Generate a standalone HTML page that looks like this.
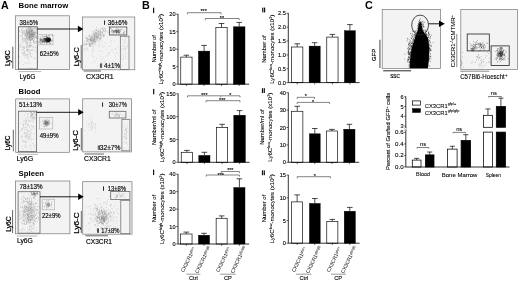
<!DOCTYPE html>
<html><head><meta charset="utf-8"><style>html,body{margin:0;padding:0;background:#fff;width:520px;height:281px;overflow:hidden}svg text{font-family:"Liberation Sans",sans-serif}</style></head>
<body><svg width="520" height="281" viewBox="0 0 520 281" style="display:block;filter:blur(0.3px)">
<defs>
<filter id="b0_8" x="-50%" y="-50%" width="200%" height="200%"><feGaussianBlur stdDeviation="0.8"/></filter>
<filter id="b1" x="-50%" y="-50%" width="200%" height="200%"><feGaussianBlur stdDeviation="1"/></filter>
<filter id="b1_5" x="-50%" y="-50%" width="200%" height="200%"><feGaussianBlur stdDeviation="1.5"/></filter>
<filter id="b1_8" x="-50%" y="-50%" width="200%" height="200%"><feGaussianBlur stdDeviation="1.8"/></filter>
<filter id="b2" x="-50%" y="-50%" width="200%" height="200%"><feGaussianBlur stdDeviation="2"/></filter>
</defs>
<rect width="520" height="281" fill="#fff"/>
<text x="0.9" y="9" font-size="10.6" font-weight="bold" text-anchor="start" fill="#000">A</text>
<text x="18.6" y="8.3" font-size="7.9" font-weight="bold" text-anchor="start" fill="#000" textLength="49.8" lengthAdjust="spacingAndGlyphs">Bone marrow</text>
<text x="18.6" y="94.4" font-size="7.9" font-weight="bold" text-anchor="start" fill="#000" textLength="21.8" lengthAdjust="spacingAndGlyphs">Blood</text>
<text x="18.6" y="176.4" font-size="7.9" font-weight="bold" text-anchor="start" fill="#000" textLength="25.4" lengthAdjust="spacingAndGlyphs">Spleen</text>
<rect x="15.3" y="15.8" width="54.2" height="53.8" fill="#f3f3f3" stroke="#777" stroke-width="0.7" />
<rect x="82.4" y="17" width="52.4" height="52.8" fill="#f3f3f3" stroke="#777" stroke-width="0.7" />
<ellipse cx="30.5" cy="33" rx="4.5" ry="4.5" fill="#777" opacity="0.45" filter="url(#b1_5)" transform="rotate(0 30.5 33)"/>
<path d="M28.98 36.56h0.56M29.1 32.42h0.56M26.28 32.93h0.56M34.45 36.12h0.56M34.15 35.24h0.56M31.58 34.93h0.56M23.34 38.28h0.56M32.03 36.49h0.56M26.44 31.66h0.56M31.22 33.77h0.56M32.08 30.79h0.56M31.23 35.97h0.56M27.36 42.59h0.56M32.23 39.99h0.56M27.52 30.3h0.56M28.62 33.47h0.56M32.53 35.24h0.56M28.21 29.22h0.56M27.92 40.1h0.56M26.77 35.22h0.56M30.19 40.53h0.56M21.94 32.39h0.56M29.58 29.91h0.56M31.99 33.69h0.56M24.14 38.14h0.56M32.68 38.73h0.56M35.76 35.81h0.56M30.48 27.5h0.56M32.46 30.94h0.56M28.19 27.68h0.56M26.13 31.34h0.56M24.17 35.2h0.56M35.77 36.89h0.56M31.43 30.32h0.56M25.52 38.89h0.56M34.41 34.79h0.56M30.98 36.17h0.56M36.38 37.1h0.56M32.07 36.74h0.56M23.73 40.41h0.56M33.82 36.65h0.56M22.1 30.83h0.56M29.26 39.1h0.56M24.76 42.05h0.56M32.21 33.25h0.56M31.3 37.25h0.56M30.48 39.73h0.56M27.35 31.93h0.56M34.17 34.13h0.56M26.48 38.73h0.56M35.86 31.78h0.56M24.48 33.33h0.56M29.4 32.51h0.56M35.62 28.87h0.56M35.04 27.66h0.56M26.85 37.16h0.56M34.51 38.3h0.56M31.38 34.71h0.56M30.61 36.88h0.56M29.3 35.39h0.56M32.29 34h0.56M33.06 36.83h0.56M28.29 32.14h0.56M29.95 38.62h0.56M28.65 35.93h0.56M25.5 35.22h0.56M31.59 35.19h0.56M28.28 37.28h0.56M31.13 31.39h0.56M27.78 33.5h0.56M29.1 33.69h0.56M19.09 31.57h0.56M34.03 28.16h0.56M29.73 38.77h0.56M33.42 41.46h0.56M23.19 32.23h0.56M28.64 37.12h0.56M30.7 39.97h0.56M29.4 34.96h0.56M33.19 34.71h0.56M29.65 41.67h0.56M34.19 32.53h0.56M33.66 32.67h0.56M30.53 37.53h0.56M30.89 37.19h0.56M32.46 29.18h0.56M35.07 37.73h0.56M35.89 29.31h0.56M30 28.3h0.56M33.06 41.95h0.56M26.44 41.8h0.56M33.95 33.11h0.56M22.11 41.03h0.56M29.61 30.99h0.56M31.6 36.05h0.56M35.99 28.9h0.56M34.54 41.44h0.56M35.81 33.1h0.56M27.02 39.09h0.56M30.46 34.62h0.56M35.7 32.68h0.56M20.81 32.06h0.56M22.58 38.09h0.56M31.27 30.94h0.56M29.96 38.16h0.56M30.32 40.63h0.56M29.75 39.2h0.56M35.97 42.05h0.56M27.31 38.4h0.56M22.5 28.58h0.56M22.15 39.34h0.56M25.07 33.94h0.56M29.23 33.86h0.56M27.63 35.17h0.56M32.12 39h0.56M29.21 27.7h0.56M27.78 39.37h0.56M23.42 31.01h0.56M34.03 37.96h0.56M30.03 38.03h0.56M30.66 28.11h0.56M23.74 30.81h0.56M33.69 31.17h0.56M26.39 30.15h0.56M23.87 33.41h0.56M25.28 35.82h0.56M20.56 35.64h0.56M32.9 32.62h0.56M21.08 29.62h0.56M31.16 31.71h0.56M33.12 37.74h0.56M32.66 35.63h0.56M35.33 37.3h0.56M33.59 40.55h0.56M28.81 31.65h0.56M31.88 46.12h0.56M26.29 37.45h0.56M32.24 38.51h0.56M26.38 33.55h0.56M31.17 38.13h0.56M29.86 33.02h0.56M25.94 32.21h0.56M33.57 34.51h0.56M26.59 29.79h0.56M32.49 36.4h0.56M36.74 36.14h0.56M29.73 36.61h0.56M22.22 39.17h0.56M31.3 30.49h0.56M35.3 43.05h0.56M24.39 30.67h0.56M31.17 34.92h0.56M28.41 29.13h0.56M26.51 35.3h0.56M21.36 30.26h0.56M29.76 36.61h0.56M27.09 33.38h0.56M31.83 35.88h0.56M32.55 35.04h0.56M28.7 37.95h0.56M30.2 29.87h0.56M27.5 34h0.56M29.56 34.78h0.56M30 34.88h0.56M29.46 27.71h0.56M31.69 39.27h0.56M31.74 33.05h0.56M31.79 29.17h0.56M22.42 34.3h0.56M26.28 37.7h0.56M25.84 41.89h0.56M26.95 36.6h0.56M31.99 34.88h0.56M35.94 37.53h0.56M29.92 36.98h0.56M36.62 38.86h0.56M34.1 28.59h0.56M29.41 37.65h0.56M28.81 39.34h0.56M32.39 38.54h0.56M29.15 46.73h0.56M34.96 32.92h0.56M30.36 46.98h0.56M28.63 38.37h0.56M33.92 34.03h0.56M25.33 34.94h0.56M31.44 39.65h0.56M33.13 34.12h0.56M33.41 36.7h0.56M30.82 34.28h0.56M29.03 37.43h0.56M25.78 30.86h0.56" stroke="#777" stroke-width="0.56" opacity="1.0"/>
<path d="M23.59 52.68h0.56M29.83 46.45h0.56M25.84 32.83h0.56M36.14 52.16h0.56M32.47 38.18h0.56M26.07 28.8h0.56M30.9 56.35h0.56M30.15 29.38h0.56M23.85 32.97h0.56M27.16 49.5h0.56M30.17 54.02h0.56M34.51 58.64h0.56M20.44 41.95h0.56M21.7 36.23h0.56M26.59 47.05h0.56M29.45 31.13h0.56M20.81 46.77h0.56M26 43.89h0.56M26.68 39.4h0.56M30.51 50.54h0.56M26.56 40.28h0.56M22.09 47.37h0.56M19.48 49h0.56M27.74 33.22h0.56M25.75 43.86h0.56M29.3 53.12h0.56M26.82 38.49h0.56M26.28 46.35h0.56M30.67 49.94h0.56M23.39 33.46h0.56M25.13 39.6h0.56M21.44 45.84h0.56M24.54 48.05h0.56M29.62 42.87h0.56M32.51 48.22h0.56M23.24 49.47h0.56M28.61 59.8h0.56M30.83 56.47h0.56M29.55 45.44h0.56M29.55 36.22h0.56M32.91 36.83h0.56M28.25 68.21h0.56M25.88 47.2h0.56M32.82 47.26h0.56M22.96 49.58h0.56M29.91 54.1h0.56M23.14 64.53h0.56M35.33 47.18h0.56M28.34 42.71h0.56M34.07 39.95h0.56M30.37 42.2h0.56M23.53 54.19h0.56M33.67 46.9h0.56M23.61 55.11h0.56M26.75 50.11h0.56M34.61 58.32h0.56M27.02 54.86h0.56M23.76 46.55h0.56M33.83 34.85h0.56M19.47 30.79h0.56M32.88 42.4h0.56M26.7 43.87h0.56M26.39 36.12h0.56M27.12 32.62h0.56M26.64 50.09h0.56M29.34 44.68h0.56M22.48 48.6h0.56M24.58 62.66h0.56M30.84 45.85h0.56M24.64 39.97h0.56M22.31 43.47h0.56M28.47 52.16h0.56M29.84 67.99h0.56M23.48 47.13h0.56M24.39 48.7h0.56M27.77 51.08h0.56M25.81 50.66h0.56M27.26 54.71h0.56M26.99 36.68h0.56M21.78 53.28h0.56M23.75 53.35h0.56M30.73 50.06h0.56M29.54 45.95h0.56M19.95 46.7h0.56M29.27 41.71h0.56M26.5 54.49h0.56M22.61 53.4h0.56M36.31 41.45h0.56M27.73 45.5h0.56M34.7 50.16h0.56M31.49 40.1h0.56M26.92 46.9h0.56M31.5 29.51h0.56M30.72 45.69h0.56M29.24 50.66h0.56M19.51 44.88h0.56M34.46 41.25h0.56M21.89 33.4h0.56M20.89 50.36h0.56M35.46 51.29h0.56M24.4 40.26h0.56M29.64 52.49h0.56M21.93 35.3h0.56M28.46 49.47h0.56M20.47 44.98h0.56M24.29 51.6h0.56M26.42 46.14h0.56M25.23 57.54h0.56M33.95 43.33h0.56M31.23 39.42h0.56M27.36 54.5h0.56M34.57 43.17h0.56M26.63 48.96h0.56M19.51 47.16h0.56M23.62 50.71h0.56M27.19 49.61h0.56M24.26 55.89h0.56M25.63 40.94h0.56M29.39 31.32h0.56M23.61 46.79h0.56M31.24 45.37h0.56M28.54 40.45h0.56M28.51 63.63h0.56M23.78 47.17h0.56M27.87 57.24h0.56M30.03 54.95h0.56M28.02 49.54h0.56M31.65 50.69h0.56M35.32 34.62h0.56M31.06 43.28h0.56M31.62 68.54h0.56M26.97 44.45h0.56M24.5 38.62h0.56M23.85 53.39h0.56M27.18 47.66h0.56M26.13 56.14h0.56M29.47 45.58h0.56M30.32 45.48h0.56M21.24 61.55h0.56M29.33 37.43h0.56M32.39 50.45h0.56M19.18 63.1h0.56M28.67 55.91h0.56M27.99 45.5h0.56M19.26 56.72h0.56M27.15 44.13h0.56M28.75 47.78h0.56M30.38 43.29h0.56M24.88 53.76h0.56M33.68 43.36h0.56M26.39 62.83h0.56M25.37 54.34h0.56M35.39 47.4h0.56M33.13 39.9h0.56M28.04 46.23h0.56M27.57 58.3h0.56M24.12 51.97h0.56M21.72 51.97h0.56M29.86 44.22h0.56M29.66 31.51h0.56M30.8 31.55h0.56M23.52 41.44h0.56M24.99 55.59h0.56M27.41 43.03h0.56M29.72 62.81h0.56M27.03 50.66h0.56M33.2 49.68h0.56M26.8 51.17h0.56M31.83 53.69h0.56M25.64 36.46h0.56M27.51 57.33h0.56M21.55 36.73h0.56M26.88 27.63h0.56M25.7 42.63h0.56M29.25 39.98h0.56M22.59 43.06h0.56M26.75 40.35h0.56M27.06 54.5h0.56" stroke="#999" stroke-width="0.56" opacity="1.0"/>
<ellipse cx="48" cy="39.8" rx="2.8" ry="2.4" fill="#000" opacity="1.0" filter="url(#b0_7)" transform="rotate(0 48 39.8)"/>
<ellipse cx="43" cy="40.5" rx="3.5" ry="1.8" fill="#888" opacity="0.45" filter="url(#b1_0)" transform="rotate(0 43 40.5)"/>
<path d="M49.58 43.07h0.56M44.46 39.24h0.56M40.04 43.42h0.56M44.62 39.94h0.56M47.86 37.55h0.56M47.71 39.95h0.56M41.75 40.53h0.56M49.61 36.64h0.56M48.6 40.38h0.56M47.73 40.79h0.56M49.89 39.6h0.56M48.77 39.26h0.56M48.39 38.53h0.56M46.22 43.12h0.56M47.66 39.72h0.56M43.52 38.58h0.56M47 41.69h0.56M47.61 40.94h0.56M46.39 42.43h0.56M45.48 39.01h0.56M48.81 40.11h0.56M45.78 38.96h0.56M45.83 41.12h0.56M47.42 37.82h0.56M47.61 40.32h0.56M43.9 41.39h0.56M45.77 39.4h0.56M48.57 42.38h0.56M44.71 40.79h0.56M44.22 44.17h0.56M45.22 42.15h0.56M44.82 41.46h0.56M52.27 35.43h0.56M45.37 40.9h0.56M46.26 38.8h0.56M52.1 40.14h0.56M42.22 41.54h0.56M42.02 42.07h0.56M45 40.26h0.56M49.78 40.21h0.56M42.88 36.95h0.56M49.57 41.33h0.56M44.38 41.55h0.56M47.79 41.17h0.56M40.63 39.46h0.56M48.84 41.32h0.56M48.79 35.58h0.56M46.94 40.89h0.56M45.64 40.06h0.56M48.8 39.2h0.56M49.48 38.58h0.56M47.19 39.05h0.56M46.91 38.76h0.56M42.35 41.97h0.56M47.29 38.99h0.56M47.02 41.78h0.56M43.96 39.8h0.56M47.9 40.95h0.56M45.63 36.21h0.56M49.73 40.59h0.56M46.53 39.5h0.56M47.18 39.23h0.56M43.84 38.67h0.56M44.95 38.9h0.56M43.49 41.15h0.56M43.09 41.19h0.56M43.86 40.63h0.56M50.07 40.37h0.56M44.6 40.09h0.56M46.89 36.88h0.56M44.92 40.29h0.56M45.28 40.14h0.56M48.41 41.38h0.56M48.85 41.06h0.56M45.75 39.97h0.56M45.79 39.44h0.56M46.03 36.9h0.56M45.63 39.96h0.56M43.97 39.96h0.56M47.84 39.7h0.56M51.9 35.31h0.56M45.96 36.71h0.56M39.99 40.23h0.56M47.85 39.46h0.56M47.93 35.96h0.56M48.72 40.67h0.56M46.56 38.94h0.56M48.16 39.13h0.56M47.08 39.08h0.56M40.66 39.94h0.56M47.03 41.36h0.56M44.22 39.94h0.56M48.1 40.26h0.56M49.73 43.58h0.56M44.14 36.54h0.56M48.73 42.75h0.56M48.9 41.47h0.56M44.89 38.72h0.56M48.81 38.36h0.56M41.79 38.2h0.56M44.72 38.69h0.56M47.1 38.65h0.56M49.91 39.86h0.56M43.68 42.36h0.56M44.98 40.4h0.56M46.47 39.43h0.56M47.34 38.75h0.56M41.7 36.03h0.56M43.21 38.63h0.56M46.44 40.1h0.56M47.95 40.22h0.56M44.44 38.72h0.56M40.99 39.7h0.56M47.76 40.95h0.56M46.18 39.69h0.56M48.93 40.03h0.56M48.42 41.05h0.56M47.05 42.35h0.56M45.01 39.35h0.56M44.4 38.57h0.56M50.55 43.17h0.56M46.56 41.02h0.56M49.56 41.45h0.56M49.63 37.73h0.56M44.84 40.81h0.56M50.23 40.19h0.56M44.27 39.36h0.56M44.78 38.46h0.56M50.4 38.87h0.56M46.55 43.89h0.56M49.58 40.61h0.56M44.91 40.74h0.56M50.72 41.12h0.56M49.78 40.18h0.56M47.84 39.64h0.56M47.61 42.34h0.56M42.78 39.89h0.56M47.12 38.97h0.56M45.7 41.42h0.56M51.7 41.13h0.56M47.35 37.21h0.56M51.51 40.14h0.56M46.41 37.99h0.56M46.35 38.03h0.56M46.68 40.84h0.56M46.58 40.5h0.56M44.29 42.57h0.56M44.8 36.73h0.56M46.01 38.63h0.56M43.87 39.36h0.56M47.26 37.87h0.56M46.14 42.57h0.56M48.28 39.73h0.56M46.83 39.78h0.56M46.38 41.32h0.56M46.26 35.67h0.56M46.44 38.4h0.56" stroke="#222" stroke-width="0.56" opacity="1.0"/>
<path d="M43.13 39.58h0.56M41.87 43.77h0.56M38.88 38.81h0.56M37.97 36.91h0.56M39.9 37.7h0.56M37.79 41.43h0.56M39.56 39.95h0.56M42.33 42.53h0.56M46.35 42.05h0.56M41.86 40.78h0.56M46.01 42.64h0.56M40.72 41.19h0.56M42.22 40.58h0.56M40.25 38.51h0.56M40.16 38.18h0.56M44.56 41.3h0.56M38.49 42.59h0.56M43.73 37.64h0.56M46.1 41.71h0.56M46.66 38.65h0.56M42.83 41.13h0.56M42 40.76h0.56M44.13 38.26h0.56M38.39 38.41h0.56M40.11 39.59h0.56M42.42 40.9h0.56M41.58 39.49h0.56M40.4 41.93h0.56M43.41 40.65h0.56M40.69 42.83h0.56M40.01 41.47h0.56M44.38 40.1h0.56M43.56 38.83h0.56M44.03 40.8h0.56M39.27 42.42h0.56M39.8 40.25h0.56M42.21 40h0.56M42.15 39.67h0.56M43.18 40.51h0.56M42.03 36.37h0.56M44.4 40.55h0.56M42.67 42.11h0.56M38.79 42.82h0.56M41.1 44.09h0.56M41.13 41.52h0.56M40.58 38.83h0.56M44.24 41.86h0.56M45.35 41.79h0.56M40.07 38.01h0.56M39.87 39.49h0.56M39.46 41.37h0.56M42.32 40.1h0.56M41.93 40.28h0.56M42.03 41.63h0.56M43.9 39.47h0.56M37.73 42.64h0.56M41.79 42.16h0.56" stroke="#777" stroke-width="0.56" opacity="1.0"/>
<ellipse cx="95" cy="37.5" rx="8" ry="3.2" fill="#aaa" opacity="0.4" filter="url(#b1_8)" transform="rotate(-42 95 37.5)"/>
<path d="M85.83 44.51h0.56M92.44 34.37h0.56M93.67 41.42h0.56M103.6 35.77h0.56M87.88 38.63h0.56M99.47 37.02h0.56M93.57 33.89h0.56M100.55 35.49h0.56M96.97 33.89h0.56M98.06 37.72h0.56M88.64 36.28h0.56M97.61 36.96h0.56M96.74 39.29h0.56M91.79 40.08h0.56M94.48 40.12h0.56M102.83 29.5h0.56M108.55 31.06h0.56M100.21 35.02h0.56M103.87 28.83h0.56M92.43 35.81h0.56M99.98 38.08h0.56M98.56 35.89h0.56M94.27 38.79h0.56M89.55 46.36h0.56M90.8 37.12h0.56M89.55 39.3h0.56M101.43 35.7h0.56M89.67 45.79h0.56M98.53 32.13h0.56M85.87 42.91h0.56M92.34 41.18h0.56M89.34 34.95h0.56M93.34 33.21h0.56M97.45 30.75h0.56M89.79 38.97h0.56M94.61 42.74h0.56M100.56 34.76h0.56M93.76 32.78h0.56M91.26 38.79h0.56M90.87 43.14h0.56M89.81 39.49h0.56M85.71 38.11h0.56M100.59 37.48h0.56M94.08 34.65h0.56M101.88 32.42h0.56M102.59 36.23h0.56M100.04 31.3h0.56M101.93 34.18h0.56M86.25 43.86h0.56M87.39 43.94h0.56M96.01 32.57h0.56M86.74 49.83h0.56M99.72 38.8h0.56M90.1 45.91h0.56M109.55 31.96h0.56M94.41 39.04h0.56M96.07 40.3h0.56M100.56 32.82h0.56M89.32 45.41h0.56M93.73 41.01h0.56M99.41 39.65h0.56M100.07 31.23h0.56M100.12 39.54h0.56M93.02 40.92h0.56M103.55 34.54h0.56M95.22 32.32h0.56M88.9 43.92h0.56M101.79 40.99h0.56M92.65 43.9h0.56M95.88 30.41h0.56M91.05 41.68h0.56M92.14 39.49h0.56M95.93 33.61h0.56M96.23 33.99h0.56M93.17 41.17h0.56M92.55 40.78h0.56M103.37 30.06h0.56M95.62 39.71h0.56M95.13 41.47h0.56M89.49 44.8h0.56M90.84 38.24h0.56M102.61 27.44h0.56M105.37 30.64h0.56M100.73 28.66h0.56M103.97 34.92h0.56M94.15 37.78h0.56M108.11 26.37h0.56M91.62 38.17h0.56M97.94 36.1h0.56M99.15 40.25h0.56M94.18 40.02h0.56M100.71 28.58h0.56M103.84 36.45h0.56M85.9 41.56h0.56M86.14 38.52h0.56M93.88 31.52h0.56M100.32 38.19h0.56M86 44.41h0.56M86.48 48.1h0.56M90.67 40.4h0.56M96.3 38.38h0.56M93.22 39.16h0.56M92.37 40.3h0.56M89.02 43.12h0.56M84.03 45.53h0.56M105.11 28.69h0.56M88.93 43.94h0.56M86.85 38.62h0.56M92.55 42.48h0.56M96.82 35.5h0.56M88.16 39.6h0.56M102.48 31.69h0.56M86.09 37.57h0.56M92.51 49.07h0.56M88.88 42.72h0.56M95.8 36.19h0.56M90.98 35.95h0.56M92.7 45.94h0.56M92.65 42.8h0.56M85.67 44.86h0.56M98.3 38.43h0.56M90.28 44h0.56M95.63 34.16h0.56M95.8 33.4h0.56M90.82 41.19h0.56M87.06 39.14h0.56M94.22 41.08h0.56M95.27 42.03h0.56M86.51 40.2h0.56M103.82 31.06h0.56M98.37 31.35h0.56M99.67 34.27h0.56M98.42 34.51h0.56M100.06 30.5h0.56M87.22 38.94h0.56M99.65 30.53h0.56M87.81 40.43h0.56M90.3 36.94h0.56M92.31 37.56h0.56M90.33 38.09h0.56M94.33 36.37h0.56M96.06 37.48h0.56M92.67 31.35h0.56M90.72 38.35h0.56M96.07 30.59h0.56M90.73 40.24h0.56M95.11 41.14h0.56M94.5 41.58h0.56M83.98 40.59h0.56M102.16 32.7h0.56M97.77 35.47h0.56M95.24 32.7h0.56M98.94 31.95h0.56M100.29 33.07h0.56M100.61 31.93h0.56M93.4 39.86h0.56M91.77 38.36h0.56M95.8 37.32h0.56M102.98 30.49h0.56M108.16 32.45h0.56M105.92 31.67h0.56M95.94 37.17h0.56M92.89 36.65h0.56M93.45 36.48h0.56M104.53 30.93h0.56M89.09 35.61h0.56M93.94 36.88h0.56M87.22 40.22h0.56M84.36 49.22h0.56M99.49 43.18h0.56M94.56 37.34h0.56M102.76 31.01h0.56M95.17 35.94h0.56M94.66 43.45h0.56M103.42 36.38h0.56M93.24 39.2h0.56M92.23 43.64h0.56M88.81 45.2h0.56M103.35 35.3h0.56M92.15 44.17h0.56M89.87 39.27h0.56M90.28 46.1h0.56M102.46 28.54h0.56M90.41 40.35h0.56M109.93 27.85h0.56M88.82 36.31h0.56M93.73 43.12h0.56M104.22 28.2h0.56M90.45 39.68h0.56M86.89 48.22h0.56M91.34 44.8h0.56M83.74 42.86h0.56M95.07 34.56h0.56M99.08 33.86h0.56M90.05 44.3h0.56M95.8 29.58h0.56M105.43 29.98h0.56M95.47 30.07h0.56M90.6 40.14h0.56M97.87 29.42h0.56M86.6 37.42h0.56M94.39 39.35h0.56M85.12 44.17h0.56M100.63 38.41h0.56M97.89 33.76h0.56M87.12 41.07h0.56M91.82 40.92h0.56M97.87 41.2h0.56M94.49 33.92h0.56M104.81 32.24h0.56M94.17 35.53h0.56M83.35 44.14h0.56M98.24 31.56h0.56M88.5 44.09h0.56M97.4 37.62h0.56M101.05 37.36h0.56M92.47 43.47h0.56M91.16 43.57h0.56M96.39 37.17h0.56M100 32.93h0.56M102.43 34.11h0.56M94.64 35.69h0.56M90.09 39.93h0.56M93.9 38.4h0.56M111.7 24.87h0.56M97.39 32.11h0.56M90.71 40.16h0.56M94.06 34.44h0.56M102.33 28.78h0.56M96.23 27.59h0.56M95.48 38.11h0.56M97.12 37.86h0.56M96.76 36.53h0.56M83.82 44.88h0.56M83.99 49.78h0.56M96.23 35.65h0.56M89.64 40.14h0.56" stroke="#888" stroke-width="0.56" opacity="1.0"/>
<ellipse cx="116" cy="31.5" rx="5" ry="1.8" fill="#888" opacity="0.5" filter="url(#b1_0)" transform="rotate(0 116 31.5)"/>
<path d="M122.96 33.75h0.6M116.3 33.17h0.6M110.94 28.98h0.6M114.81 30.36h0.6M114.54 31.74h0.6M116.67 31.86h0.6M116.38 32.71h0.6M122.71 29.88h0.6M117.07 31.16h0.6M117.75 29.51h0.6M110.35 28.49h0.6M118.34 31.75h0.6M116.76 28.42h0.6M115.19 30.52h0.6M111.55 30.31h0.6M118.94 32.21h0.6M116.42 32.17h0.6M114.39 31.59h0.6M116.64 32.22h0.6M116.26 31.31h0.6M116.03 30.66h0.6M124.32 32.17h0.6M118 34.48h0.6M121.41 29.48h0.6M118.93 32.59h0.6M123.1 33.21h0.6M119.2 29.97h0.6M113.45 31.85h0.6M118.27 30.17h0.6M115.15 30.98h0.6M116.71 31.94h0.6M115.5 29.89h0.6M120.85 33.57h0.6M116.13 32.83h0.6M118.05 32.36h0.6M118.19 30.51h0.6M118.51 32.81h0.6M113.36 34.06h0.6M123.81 33.87h0.6M123.46 32.47h0.6M115.32 30.72h0.6M113.65 31.65h0.6M116.39 32.37h0.6M124.47 31.46h0.6M118.87 32.12h0.6M117.46 31.23h0.6M116.07 30.43h0.6M117.12 31.47h0.6M117.62 30.39h0.6M116.64 31.56h0.6M118.61 30.12h0.6M117.97 32.78h0.6M118.59 31.02h0.6M114.78 31.19h0.6M119.05 33.52h0.6M115.95 30.66h0.6M117.82 31.77h0.6M113.32 30.54h0.6M116.14 32.37h0.6M112.32 30.18h0.6M118.25 29.91h0.6M116.88 31.96h0.6M116.11 30.18h0.6M116.29 31.07h0.6M117.68 30.41h0.6M120.32 29.32h0.6M115.88 31.51h0.6M119.87 30.71h0.6" stroke="#555" stroke-width="0.6" opacity="1.0"/>
<path d="M109.46 46.33h0.56M99.99 56.43h0.56M94.73 61.73h0.56M116.11 52.35h0.56M92.65 56.02h0.56M115.49 62.9h0.56M112.13 33.7h0.56M97.2 66.22h0.56M91.74 63.31h0.56M122.82 59.62h0.56M115.2 48.67h0.56M91.75 50.97h0.56M102.01 51.52h0.56M110.97 50.55h0.56M105.92 56.24h0.56M108.42 52.85h0.56M101.92 45.75h0.56M117.44 53.5h0.56M93.21 46.38h0.56M102.63 47.55h0.56M114.84 40.38h0.56M108.92 53.43h0.56M92.22 52.47h0.56M103.06 57.01h0.56M99.5 55.03h0.56M87.35 41.16h0.56M111.85 62.42h0.56M103.87 46.01h0.56M114.83 31.08h0.56M96 58.72h0.56M110.53 41.68h0.56M85.13 66.52h0.56M105.53 43.04h0.56M104.55 61.02h0.56M111.4 31.19h0.56M111.71 34.2h0.56M115.39 55.99h0.56M126.52 45.89h0.56M104.05 62.47h0.56M97.6 44.95h0.56M100.28 51.27h0.56M93.18 56.84h0.56M109.43 52.72h0.56M121 48.72h0.56M117.07 46.53h0.56M111.56 32.65h0.56M105.98 50.25h0.56M99.05 45.89h0.56M100.53 44.8h0.56M98.5 46.76h0.56M93.42 50.64h0.56M111.84 49.5h0.56M99.07 65.57h0.56M113.77 61.22h0.56M115.55 48.73h0.56M102.71 63.13h0.56M98.46 50.8h0.56M107.78 55.73h0.56M101.24 61.83h0.56M102.22 59.25h0.56M114.71 58.59h0.56M111.33 40.4h0.56M90.89 45.81h0.56M108.75 67.01h0.56M91.78 55.07h0.56M95.46 44.68h0.56M101.24 58.92h0.56M106.13 63.8h0.56M94.14 60.89h0.56M113.3 52.7h0.56M108.77 46.37h0.56M93.1 47.95h0.56M99.15 68.5h0.56M106.02 55.12h0.56M111.43 44.21h0.56" stroke="#aaa" stroke-width="0.56" opacity="1.0"/>
<path d="M125.87 53.01h0.56M122.23 54.81h0.56M125.33 53.62h0.56M126.88 46.69h0.56M125.27 55.99h0.56M123.15 59.6h0.56M122.32 39.6h0.56M125.28 41.29h0.56M124.33 36.84h0.56M124.6 40.93h0.56M125.01 37.74h0.56M125.17 47.87h0.56M124.6 49.46h0.56M124.7 39.43h0.56M120.65 50.27h0.56M123.1 46.36h0.56M123.36 45.12h0.56M122.91 52.61h0.56M124.29 43.43h0.56M123.02 56.46h0.56M123.51 54.68h0.56M122.87 50.02h0.56M125.01 56.24h0.56M125.7 58.27h0.56M123.94 48.32h0.56M125.66 46.6h0.56M126.09 37.29h0.56M125.48 48.61h0.56M121.55 57.84h0.56M124.97 50.17h0.56M122.89 46.28h0.56M126.77 43.38h0.56M122.7 48.94h0.56M123.91 42.7h0.56M123.24 58.38h0.56M122.34 65.65h0.56M123.68 41.26h0.56" stroke="#aaa" stroke-width="0.56" opacity="1.0"/>
<rect x="18.5" y="26.8" width="18.8" height="42.3" fill="none" stroke="#4a4a4a" stroke-width="0.8" />
<rect x="37.4" y="34.8" width="15.6" height="10" fill="none" stroke="#aaa" stroke-width="0.6" />
<rect x="109.4" y="27" width="17.4" height="8" fill="none" stroke="#4a4a4a" stroke-width="0.8" />
<rect x="120.3" y="36.2" width="8.7" height="33.2" fill="none" stroke="#666" stroke-width="0.7" />
<text x="19.6" y="25" font-size="6.6" font-weight="normal" text-anchor="start" fill="#000" textLength="18.6" lengthAdjust="spacingAndGlyphs" stroke="#000" stroke-width="0.15">38±5%</text>
<text x="39.8" y="56" font-size="6.6" font-weight="normal" text-anchor="start" fill="#000" textLength="18.8" lengthAdjust="spacingAndGlyphs" stroke="#000" stroke-width="0.15">62±5%</text>
<rect x="104.1" y="20.4" width="0.95" height="4.4" fill="#1a1a1a" stroke="none" stroke-width="0.8" />
<text x="107.7" y="25" font-size="6.6" font-weight="normal" text-anchor="start" fill="#000" textLength="19.7" lengthAdjust="spacingAndGlyphs" stroke="#000" stroke-width="0.15">36±6%</text>
<rect x="100.1" y="63.4" width="0.75" height="4.4" fill="#1a1a1a" stroke="none" stroke-width="0.8" />
<rect x="101.35" y="63.4" width="0.75" height="4.4" fill="#1a1a1a" stroke="none" stroke-width="0.8" />
<text x="104.1" y="68" font-size="6.6" font-weight="normal" text-anchor="start" fill="#000" textLength="15.9" lengthAdjust="spacingAndGlyphs" stroke="#000" stroke-width="0.15">4±1%</text>
<line x1="37.3" y1="29" x2="79.4" y2="29" stroke="#000" stroke-width="0.9"/>
<path d="M77.9 25.7L83.4 29L77.9 32.3Z" fill="#000"/>
<line x1="12.8" y1="46.7" x2="12.8" y2="68.7" stroke="#222" stroke-width="0.7"/>
<text x="9.9" y="58.2" font-size="6.6" font-weight="normal" text-anchor="middle" fill="#000" transform="rotate(-90 9.9 58.2)" textLength="15.6" lengthAdjust="spacingAndGlyphs" stroke="#000" stroke-width="0.25">Ly6C</text>
<line x1="18.5" y1="71.6" x2="41.2" y2="71.6" stroke="#999" stroke-width="0.7"/>
<text x="19.6" y="79" font-size="6.6" font-weight="normal" text-anchor="start" fill="#000" textLength="15.8" lengthAdjust="spacingAndGlyphs" stroke="#000" stroke-width="0.15">Ly6G</text>
<line x1="81.2" y1="45" x2="81.2" y2="68.5" stroke="#222" stroke-width="0.7"/>
<text x="78.9" y="56.8" font-size="6.6" font-weight="normal" text-anchor="middle" fill="#000" transform="rotate(-90 78.9 56.8)" textLength="19" lengthAdjust="spacingAndGlyphs" stroke="#000" stroke-width="0.25">Ly6-C</text>
<line x1="83.7" y1="71" x2="101" y2="71" stroke="#222" stroke-width="0.7"/>
<text x="86" y="78.7" font-size="6.6" font-weight="normal" text-anchor="start" fill="#000" textLength="27.6" lengthAdjust="spacingAndGlyphs" stroke="#000" stroke-width="0.15">CX3CR1</text>
<rect x="15.7" y="98.9" width="53.7" height="53.4" fill="#f3f3f3" stroke="#777" stroke-width="0.7" />
<rect x="82.7" y="98.8" width="48.8" height="53.1" fill="#f3f3f3" stroke="#777" stroke-width="0.7" />
<path d="M30.54 136.77h0.56M22.31 138.98h0.56M32.07 126.93h0.56M21.14 136.17h0.56M31.13 129.73h0.56M28.88 139.22h0.56M35.34 126.97h0.56M24.83 129.54h0.56M32.43 118.7h0.56M30.59 121.89h0.56M29.07 138.26h0.56M21.68 128.96h0.56M28.08 137.05h0.56M22.81 118.1h0.56M26.13 127.33h0.56M20.27 141.16h0.56M24.59 147.23h0.56M30.83 130.25h0.56M30.27 116.66h0.56M25.53 123.09h0.56M21.29 130.2h0.56M26.35 147.23h0.56M22.87 124.43h0.56M28.9 134.85h0.56M27.13 124.31h0.56M29.23 134.32h0.56M20.81 115.82h0.56M27.66 130.72h0.56M27.51 119.49h0.56M26.09 119.05h0.56M28.72 138.26h0.56M34.9 145.19h0.56M23.38 124.51h0.56M22.78 133.67h0.56M35.91 138.5h0.56M21.18 136.18h0.56M27.01 133.6h0.56M35.02 120.07h0.56M28.54 120.65h0.56M27.2 141.92h0.56M26.37 121.68h0.56M19.05 132.08h0.56M27.12 137.4h0.56M25.18 135.99h0.56M30.67 128.23h0.56M24.94 127.76h0.56M22.66 127.51h0.56M25.64 132.52h0.56M33.01 145.69h0.56M25 137.24h0.56M28.33 139.14h0.56M27.1 133.19h0.56M24.89 120.59h0.56M30.92 145.59h0.56M29.98 135.23h0.56M28.2 124.6h0.56M27.9 123.35h0.56M22.66 145.33h0.56M23.77 129.74h0.56M24.72 131.86h0.56M26.06 121.02h0.56M31.84 120.58h0.56M24.71 136.65h0.56M24.58 124.78h0.56M28.6 125.59h0.56M21.39 128.77h0.56M26.01 150.46h0.56M22.06 141.63h0.56M23.46 125.73h0.56M25.53 133.25h0.56M30.89 151h0.56M24.14 145.96h0.56M31.48 139.75h0.56M23.58 140.81h0.56M26.52 134.24h0.56M25.79 137.97h0.56M32.02 143.57h0.56M26.08 141.94h0.56M33.53 118.78h0.56M33.63 113.98h0.56M29.44 137.13h0.56M33.67 133.35h0.56M24.84 120.44h0.56M21.37 139.19h0.56M25.93 121.39h0.56M29.39 120.82h0.56M25.03 124.5h0.56M34.44 147.55h0.56M28.24 130.86h0.56M28.57 136.79h0.56M25.56 141.1h0.56M30.77 132.53h0.56M25.17 124.23h0.56M30.12 116.81h0.56M26.28 121h0.56M20.73 137.24h0.56M26.88 130.43h0.56M30.93 112.07h0.56M26.7 133.46h0.56M30.75 116.98h0.56M30.22 132.63h0.56M33.1 143.67h0.56M26.99 124.91h0.56M25.47 118.71h0.56M26.62 135.11h0.56M31.46 125.83h0.56M33.25 122.18h0.56M23.57 120.5h0.56M33.56 136.22h0.56M22.15 136.25h0.56M29.12 127.26h0.56M27.1 126.42h0.56M26.6 145.05h0.56M33.29 126.73h0.56M23.72 127.52h0.56M30.94 134.12h0.56M24.44 134.24h0.56M26.09 136.04h0.56M25.21 112.77h0.56M27.25 138.9h0.56M22.14 128.74h0.56M30.85 125.62h0.56M30.64 142.02h0.56M22.85 149.09h0.56M19.74 123.94h0.56M30.24 145.54h0.56M22.93 122.25h0.56M29.8 136.53h0.56M25.04 136.27h0.56M30.39 133.61h0.56M29.28 147.64h0.56M24.91 131.89h0.56M24.72 142.04h0.56M25.22 135.52h0.56M27.6 130.77h0.56M34.49 129.01h0.56M33.18 139.6h0.56M32.75 128.08h0.56M31.04 138.78h0.56M24.33 133.13h0.56M26.44 129.59h0.56M32.66 121.64h0.56M25.03 122.53h0.56M27.06 136.55h0.56M34.65 133.58h0.56M29.01 121.49h0.56M29.52 145.73h0.56M30.87 148.33h0.56M30.59 112.71h0.56M25.67 136.79h0.56M28.8 120.62h0.56M23.14 141.17h0.56M21.22 146.58h0.56M27.09 133.48h0.56M21.22 123.11h0.56M29.99 113.01h0.56M35.97 113.79h0.56M21.71 130.5h0.56M29.09 138.46h0.56M25.39 127.61h0.56M25.98 123.36h0.56M28.09 131.83h0.56M24.28 132.9h0.56M26.94 129.11h0.56M28.09 117.71h0.56M25.63 147.28h0.56M22.31 128.85h0.56M24.44 140.95h0.56M29.22 125.92h0.56M25.62 142.45h0.56M23.16 125.7h0.56M27.64 134.76h0.56M24.77 141.93h0.56M33.08 126.03h0.56M27.59 126.09h0.56M24.25 115.28h0.56M25.29 144.94h0.56M31.93 125.99h0.56M24.72 121.91h0.56M21.82 150.79h0.56M29.87 131.35h0.56M24.88 118.22h0.56M32.69 139h0.56M22.88 141.4h0.56M22.22 137.4h0.56M22.85 125.22h0.56M29.14 134.98h0.56M31.37 120.36h0.56M33.82 145.49h0.56M26.96 135.36h0.56M23.64 128.24h0.56M21.29 131.03h0.56" stroke="#aaa" stroke-width="0.56" opacity="1.0"/>
<path d="M32.48 118.22h0.56M34.27 116.96h0.56M31.13 114.46h0.56M31.18 115.53h0.56M27.37 116.85h0.56M28.24 113.76h0.56M32.05 113.77h0.56M35.99 114.77h0.56M35.77 117.82h0.56M30.81 115.96h0.56M35.12 114.2h0.56M32.21 113.66h0.56M32.14 114.15h0.56M32.2 117.4h0.56M35.34 115.32h0.56M32.48 117.05h0.56M31.3 112.46h0.56M34.66 112.76h0.56M34.23 112.68h0.56M34.04 118.6h0.56M29.69 118.56h0.56M33.73 116.68h0.56M31.87 114.27h0.56M31.09 114.3h0.56M27.7 113.64h0.56M31.13 113.29h0.56M32.95 117.55h0.56M33.74 112.19h0.56M32.39 115.34h0.56M35.45 117.87h0.56M33.26 117.92h0.56M31.05 118.69h0.56M30.98 115.95h0.56M34.2 112.81h0.56M32.4 114.87h0.56M31.22 116.2h0.56M26.92 114.94h0.56M32.21 114.36h0.56M33.91 119.21h0.56M30.93 112.74h0.56M30.55 115.22h0.56M33.41 112.93h0.56M34.4 112.54h0.56M33.99 116.03h0.56M33.11 120.18h0.56" stroke="#999" stroke-width="0.56" opacity="1.0"/>
<ellipse cx="46.5" cy="123" rx="2" ry="2" fill="#222" opacity="0.85" filter="url(#b0_8)" transform="rotate(0 46.5 123)"/>
<path d="M45.37 122.6h0.56M47.14 125.07h0.56M42.79 123.66h0.56M44.22 124.51h0.56M49.29 123.12h0.56M45.74 123.44h0.56M47.35 123.39h0.56M45.05 121.25h0.56M45.57 125.91h0.56M45.75 126.23h0.56M39.83 121.9h0.56M46.66 122.97h0.56M42.02 121.4h0.56M49 119.9h0.56M43.62 120.37h0.56M44.68 124.54h0.56M47.43 118.13h0.56M49.5 121.58h0.56M44.59 127h0.56M45.8 120.02h0.56M44.47 121.26h0.56M43.58 122.2h0.56M48.11 123.84h0.56M43.62 123.28h0.56M46.08 124.83h0.56M45.21 124.1h0.56M51.05 123.23h0.56M43.4 123.79h0.56M44.07 122.11h0.56M46.45 123.81h0.56M45.32 125.04h0.56M45.54 119.87h0.56M48.11 122.13h0.56M48.91 121.43h0.56M47.37 123.76h0.56M43.31 126.38h0.56M41.47 125.19h0.56M48.62 124.19h0.56M47.62 121.81h0.56M45.97 123.54h0.56M47.01 124.7h0.56M45.5 121.32h0.56M44.65 123.99h0.56M42.01 119.99h0.56M45.01 121.67h0.56M45.18 122.4h0.56M47.86 118.25h0.56M45.27 124.14h0.56M47.17 125.87h0.56M48.53 120.48h0.56M47.53 122.2h0.56M44.07 126.68h0.56M44.49 120.95h0.56M45.02 120.95h0.56M48.42 123.91h0.56M49.37 123.99h0.56" stroke="#777" stroke-width="0.56" opacity="1.0"/>
<path d="M88.93 130.03h0.56M88.8 124.22h0.56M90.44 126.15h0.56M95.02 123.67h0.56M92.18 125.89h0.56M86.76 121.79h0.56M90.26 127.56h0.56M92.08 127.84h0.56M91.16 124.27h0.56M92.44 122.14h0.56M86.47 124.72h0.56M86.18 124.02h0.56M88.48 123.86h0.56M90.85 122.92h0.56M89.57 119.41h0.56M91.49 122.6h0.56M92.36 115.1h0.56M88.29 126.94h0.56M91.32 126.4h0.56M85.95 126.89h0.56M91.5 122.25h0.56M93.51 125.81h0.56M91.06 124.27h0.56M92.85 126.38h0.56M94.84 127.74h0.56M88.91 125.14h0.56M94.1 124.59h0.56M92.29 128.02h0.56M90.39 117h0.56M91.45 126.83h0.56M91.46 123.06h0.56M95.09 125.48h0.56M88.89 123.23h0.56M92.21 121.78h0.56M87.61 133.74h0.56M95.43 130.08h0.56M95.62 128.3h0.56M85.3 130.62h0.56M95.19 127.9h0.56M84.37 130.81h0.56M95.63 124.1h0.56M91.43 129.01h0.56M90.71 130.25h0.56M91.28 128.68h0.56M91.29 120.27h0.56M87.63 138.27h0.56M91.95 131.08h0.56M94.86 132.65h0.56M92.88 123.69h0.56" stroke="#bbb" stroke-width="0.56" opacity="1.0"/>
<path d="M117.04 112.27h0.6M116.54 115.55h0.6M111.76 114.73h0.6M119 116.05h0.6M114.75 113.74h0.6M112.45 113.31h0.6M118.3 116.91h0.6M114.22 116.11h0.6M118.04 113.92h0.6M122.32 111.56h0.6M116.84 114.76h0.6M122.17 116.59h0.6M122.5 114.66h0.6M119.38 116.09h0.6M118.24 114.92h0.6M116.55 114.02h0.6M114.01 116.77h0.6M115.92 112.07h0.6M117.64 114.46h0.6M117.43 116.62h0.6M116.74 114.19h0.6M115.19 114.47h0.6M115.93 114.74h0.6M124.59 114.96h0.6M114.92 116.75h0.6M119.1 115.45h0.6M118.74 115.46h0.6M118.64 116.15h0.6M119.45 116.07h0.6M115.78 114.5h0.6M115.23 115.62h0.6M119.02 113.96h0.6M118.42 117.57h0.6M120.01 113.2h0.6M116.78 115.24h0.6M116.91 114.95h0.6M119.87 114.88h0.6M114.33 115.34h0.6M116.76 114.63h0.6M115.62 112.88h0.6" stroke="#aaa" stroke-width="0.6" opacity="1.0"/>
<path d="M124.44 132.94h0.56M127.24 128.21h0.56M125.05 138.11h0.56M123.08 142.84h0.56M125 138.86h0.56M125.34 136.79h0.56M126.02 134.99h0.56M123.76 126.41h0.56M125.85 143.24h0.56M125.26 138.11h0.56M126.09 137.83h0.56M127.06 126.24h0.56M126.22 133.96h0.56M125.53 130.01h0.56M124.98 128.98h0.56M124.62 149.67h0.56M127.89 135.06h0.56M126.77 129.29h0.56M122.65 124.35h0.56M126.07 143.41h0.56M125.85 129.15h0.56M125.62 129.17h0.56M124.27 133.64h0.56M125.43 130.25h0.56M124.86 129.56h0.56M126.18 143.15h0.56M125.65 148.07h0.56M124.01 136.6h0.56M124.55 134.06h0.56M126.02 138.27h0.56M127.22 131.75h0.56M124.45 133.9h0.56M126.24 130.92h0.56M126.94 144.85h0.56M124.24 137.12h0.56M127.09 123.76h0.56M126.14 133.68h0.56M124.24 142.69h0.56M126.15 132.2h0.56M126.42 138.76h0.56M126.8 138.39h0.56M126.38 128.12h0.56M125.41 135.75h0.56M122.66 147.47h0.56M125.46 128.83h0.56M123.77 136.46h0.56M125.94 131.59h0.56M125.41 129.81h0.56M125.02 134.43h0.56M125.15 138.97h0.56M125.73 135.77h0.56M126.37 142.43h0.56M126.6 136.33h0.56M125.71 130.29h0.56M125.5 138.99h0.56M126.16 132.73h0.56M124.34 126.04h0.56M126.28 141.01h0.56M126.34 126.97h0.56" stroke="#bbb" stroke-width="0.56" opacity="1.0"/>
<rect x="18.5" y="111.2" width="18.1" height="40.4" fill="none" stroke="#666" stroke-width="0.8" />
<rect x="39.4" y="117.4" width="13.4" height="11.6" fill="none" stroke="#aaa" stroke-width="0.6" />
<rect x="109.3" y="111.3" width="16.6" height="6.7" fill="none" stroke="#666" stroke-width="0.8" />
<rect x="121.9" y="119.3" width="8" height="31.5" fill="none" stroke="#666" stroke-width="0.7" />
<text x="19.1" y="107" font-size="6.6" font-weight="normal" text-anchor="start" fill="#000" textLength="23" lengthAdjust="spacingAndGlyphs" stroke="#000" stroke-width="0.15">51±13%</text>
<text x="39.75" y="138" font-size="6.6" font-weight="normal" text-anchor="start" fill="#000" textLength="18.75" lengthAdjust="spacingAndGlyphs" stroke="#000" stroke-width="0.15">49±9%</text>
<rect x="102.1" y="102.4" width="0.95" height="4.4" fill="#1a1a1a" stroke="none" stroke-width="0.8" />
<text x="108.8" y="107" font-size="6.6" font-weight="normal" text-anchor="start" fill="#000" textLength="18" lengthAdjust="spacingAndGlyphs" stroke="#000" stroke-width="0.15">30±7%</text>
<rect x="97.85" y="145.4" width="0.75" height="4.4" fill="#1a1a1a" stroke="none" stroke-width="0.8" />
<rect x="99.1" y="145.4" width="0.75" height="4.4" fill="#1a1a1a" stroke="none" stroke-width="0.8" />
<text x="99.8" y="150" font-size="6.6" font-weight="normal" text-anchor="start" fill="#000" textLength="20.7" lengthAdjust="spacingAndGlyphs" stroke="#000" stroke-width="0.15">32±7%</text>
<line x1="36.6" y1="112.3" x2="79.7" y2="112.3" stroke="#000" stroke-width="0.9"/>
<path d="M78.2 109L83.7 112.3L78.2 115.6Z" fill="#000"/>
<line x1="13.3" y1="129.8" x2="13.3" y2="151.3" stroke="#222" stroke-width="0.7"/>
<text x="9.9" y="143" font-size="6.6" font-weight="normal" text-anchor="middle" fill="#000" transform="rotate(-90 9.9 143)" textLength="14.6" lengthAdjust="spacingAndGlyphs" stroke="#000" stroke-width="0.25">Ly6C</text>
<line x1="17.6" y1="154.3" x2="38.2" y2="154.3" stroke="#999" stroke-width="0.7"/>
<text x="16.6" y="161.4" font-size="6.6" font-weight="normal" text-anchor="start" fill="#000" textLength="16.6" lengthAdjust="spacingAndGlyphs" stroke="#000" stroke-width="0.15">Ly6G</text>
<line x1="81.3" y1="128" x2="81.3" y2="150.5" stroke="#222" stroke-width="0.7"/>
<text x="78.3" y="140.4" font-size="6.6" font-weight="normal" text-anchor="middle" fill="#000" transform="rotate(-90 78.3 140.4)" textLength="20.6" lengthAdjust="spacingAndGlyphs" stroke="#000" stroke-width="0.25">Ly6-C</text>
<line x1="84.5" y1="154" x2="104" y2="154" stroke="#222" stroke-width="0.7"/>
<text x="84" y="161.4" font-size="6.6" font-weight="normal" text-anchor="start" fill="#000" textLength="26.7" lengthAdjust="spacingAndGlyphs" stroke="#000" stroke-width="0.15">CX3CR1</text>
<rect x="15.5" y="181" width="54.4" height="52.8" fill="#f3f3f3" stroke="#777" stroke-width="0.7" />
<rect x="82.7" y="181.7" width="49.3" height="52.5" fill="#f3f3f3" stroke="#777" stroke-width="0.7" />
<ellipse cx="29" cy="213" rx="5" ry="10" fill="#999" opacity="0.3" filter="url(#b2)" transform="rotate(0 29 213)"/>
<path d="M27.96 215.16h0.56M24.53 216.38h0.56M28.02 204.87h0.56M22.95 220.9h0.56M30.74 204.35h0.56M24.06 221.67h0.56M31.9 210.03h0.56M36.76 210.18h0.56M23.85 223.64h0.56M28.08 216.36h0.56M29.19 203.24h0.56M23.22 211.11h0.56M35.85 203.23h0.56M35.62 215.15h0.56M23.58 215.6h0.56M31.76 204.24h0.56M18.63 216.47h0.56M23.6 217.29h0.56M19.7 211.62h0.56M25.06 198.59h0.56M27.83 214.67h0.56M26.29 201.51h0.56M30.03 195.98h0.56M31.6 217.77h0.56M37.16 221.59h0.56M30.73 215.56h0.56M29.13 200.11h0.56M36.11 218.12h0.56M27.61 201.86h0.56M36.21 218.17h0.56M23.24 219.53h0.56M38.21 212.78h0.56M30.94 208.96h0.56M25.95 223.43h0.56M28.4 220.71h0.56M27.52 220.08h0.56M33.02 203.13h0.56M23.79 212.28h0.56M33.04 215.69h0.56M35.03 199.63h0.56M31.39 206.96h0.56M29.49 216.12h0.56M24.29 210.78h0.56M23.35 215.58h0.56M24.87 208.21h0.56M30.06 206.66h0.56M34.57 206.82h0.56M33.12 215.74h0.56M23.98 210.88h0.56M24.94 209.49h0.56M27.69 230.64h0.56M26.97 228.21h0.56M31.17 200.33h0.56M19.35 219.96h0.56M33.99 216.78h0.56M27.98 210.57h0.56M30.26 210.06h0.56M26.41 209.42h0.56M34.67 206.99h0.56M30.84 201.85h0.56M25.55 199.69h0.56M28.04 219.61h0.56M30.48 208.23h0.56M31.96 209.64h0.56M30.8 215.65h0.56M22.7 220.49h0.56M27.86 207.66h0.56M36.23 218.38h0.56M38.18 217.93h0.56M28.01 220.01h0.56M25.19 208.68h0.56M26.32 210.85h0.56M32.77 208.34h0.56M30.56 208.18h0.56M28 214.63h0.56M23.79 222.8h0.56M30.05 225.39h0.56M33.65 219.2h0.56M28.28 202.5h0.56M27.94 208.55h0.56M30.21 208.5h0.56M34.68 208.46h0.56M27.83 221.95h0.56M29.01 201.28h0.56M31 211.11h0.56M19.06 214.91h0.56M23.9 205.81h0.56M31.33 215.89h0.56M31.03 207.07h0.56M30.14 211.83h0.56M28.11 210.33h0.56M26.27 222.47h0.56M29.13 229.47h0.56M32.81 228.88h0.56M28.43 216.62h0.56M26.91 211.37h0.56M20.65 207.39h0.56M24.41 206.71h0.56M34.87 215.52h0.56M34.91 221.28h0.56M33.44 222.69h0.56M26.08 220.74h0.56M27.45 207.89h0.56M24.28 229.75h0.56M33 204.83h0.56M30.32 216.58h0.56M30.81 209.56h0.56M22.81 213.3h0.56M33.15 220.56h0.56M32.18 223.62h0.56M24.22 212.59h0.56M30.64 222.63h0.56M29.75 217.99h0.56M20.18 214.29h0.56M22.09 206.46h0.56M30.08 229.51h0.56M31.23 219.44h0.56M33.9 214.93h0.56M24.87 212.06h0.56M30.62 210.33h0.56M25.79 209.54h0.56M21.77 203.13h0.56M28.56 209.53h0.56M29.18 226.52h0.56M30.44 212.69h0.56M23.35 202.62h0.56M30.81 204.59h0.56M31.07 202.66h0.56M29.65 212.3h0.56M33.79 209.22h0.56M27.21 215.37h0.56M29.26 229.26h0.56M27.76 207.84h0.56M27.46 217.56h0.56M30.13 219.67h0.56M37.85 212.7h0.56M23.18 214.49h0.56M29.07 198.78h0.56M31.2 226.3h0.56M33.97 198.51h0.56M35.65 221.72h0.56M27.26 217.83h0.56M36.3 209.81h0.56M28.92 207.62h0.56M34.56 192.28h0.56M35.83 203.69h0.56M33.46 197.36h0.56M24.49 207.25h0.56M32.99 197.4h0.56M31.9 206.89h0.56M34.97 210.01h0.56M31.34 211.35h0.56M37.63 209.54h0.56M28.88 232.09h0.56M29.37 219.6h0.56M25.45 214.92h0.56M25.89 198.54h0.56M22.19 223.99h0.56M31.05 198.41h0.56M37.73 206.31h0.56M27.23 215.37h0.56M23.53 197.44h0.56M25.41 224.37h0.56M33.58 197.8h0.56M34.79 213.33h0.56M31.41 213.5h0.56M30.99 203.37h0.56M24.63 206.24h0.56M27.23 218.96h0.56M23.15 228.34h0.56M25.96 207.34h0.56M32.38 217.17h0.56M27.37 202.7h0.56M24.19 197.62h0.56M34.5 223.43h0.56M37.99 217.8h0.56M30.6 220.29h0.56M33.58 210.51h0.56M20.85 199.47h0.56M24.37 220.25h0.56M34.72 209.74h0.56M32.23 212.53h0.56M30.44 207.8h0.56M28.87 212.95h0.56M20.26 218.13h0.56M28.98 222.32h0.56M34.11 220.51h0.56M32.89 203.85h0.56M20.79 229.07h0.56M34.82 203.83h0.56M35.21 219.42h0.56M24.25 224.23h0.56M25.72 205.84h0.56M21.56 210.91h0.56M33.9 206.53h0.56M37.89 219.65h0.56M26.41 201.33h0.56M21.11 218.38h0.56M35.26 202.79h0.56M29 210.33h0.56M27.76 217.83h0.56M39.08 206.86h0.56M33.09 223.49h0.56M27.63 211.57h0.56M22.54 223.39h0.56M26.44 206.69h0.56M29.32 204.73h0.56M23.98 210.13h0.56M36.17 211.02h0.56M31.54 198.86h0.56M19.61 230.52h0.56M27.08 198.17h0.56M28.49 218.85h0.56M20.67 204.49h0.56M30.25 204.11h0.56M32.84 222.28h0.56M31.13 208.86h0.56M28.78 206.9h0.56M28.37 216.07h0.56M27.55 222.39h0.56M30.66 220.94h0.56M32.11 210.7h0.56M26.69 222.69h0.56M32.02 217.89h0.56M25.12 219.1h0.56M32.84 211.21h0.56M19.94 218.86h0.56M23.34 199.82h0.56M27.86 218.27h0.56M29.25 201.74h0.56M22.05 207.62h0.56M29.07 204.97h0.56M21.73 229.96h0.56M24.95 211.49h0.56M26.35 207.34h0.56M29.19 210.12h0.56M31.99 201.54h0.56M21.81 231.86h0.56M28.64 220.43h0.56M34.71 218.36h0.56M29.18 197.95h0.56M21.25 222.47h0.56M32.28 218.51h0.56M20.97 192.36h0.56M23.89 201.56h0.56M29.77 203.1h0.56M36.66 206.97h0.56M26.28 221.37h0.56M30.59 204.29h0.56M32.98 231.63h0.56M23.05 210.59h0.56M23.78 194.17h0.56M32.04 219.77h0.56M33.73 217.16h0.56M19.23 212.74h0.56M25.76 201.58h0.56M23.63 220.43h0.56M27.56 232.09h0.56M31.29 194.46h0.56M33.34 225.14h0.56M29.15 201.22h0.56M37.59 200.24h0.56M28.59 194.47h0.56M22.9 196.47h0.56M34.3 224.46h0.56M27.03 199.81h0.56M28.71 216.69h0.56M21.57 201.72h0.56M28.5 219.85h0.56M29.36 217.38h0.56M30.52 204.06h0.56M28.4 209.32h0.56M31.34 205.47h0.56M36.04 213.3h0.56M31.58 219.14h0.56M34.06 216.94h0.56M20.46 206.86h0.56M38.08 217.62h0.56M31.74 217.56h0.56M25.87 206.38h0.56M25.84 224.32h0.56M30.78 230.4h0.56M31.44 231.49h0.56M31.24 201.42h0.56M37.52 216.3h0.56M34.83 215.1h0.56M27.4 214.66h0.56M23.5 201.29h0.56M24.65 207.86h0.56M22.35 211.99h0.56M38.03 212.51h0.56M33.34 210.85h0.56M30.92 212.67h0.56M26.35 213.74h0.56M21.74 217.32h0.56M27.58 202.36h0.56M27.23 218.44h0.56M25.66 217.67h0.56M31.8 228.33h0.56M23.66 211.91h0.56M31.52 227.76h0.56M30.29 220.42h0.56M21.78 207.25h0.56M37.18 210.2h0.56M27.63 197.29h0.56M32.13 215.61h0.56M38.95 214.63h0.56M27.77 199.11h0.56M28.59 222.34h0.56M32.65 225.11h0.56M33.27 212.54h0.56M31.98 214.7h0.56M22.42 229.9h0.56M30.85 202.62h0.56M30.9 215.84h0.56M33.92 227.27h0.56M36.56 203.63h0.56M19.81 215.76h0.56M30.66 216.46h0.56M23.51 208.38h0.56M29.96 220.37h0.56M34.32 211.69h0.56M28.46 203.21h0.56M32.64 195.24h0.56M29.54 214.2h0.56M30.49 225.93h0.56M28.51 213.93h0.56M33.25 197.63h0.56M27.55 213.67h0.56M33.74 205.06h0.56M32.99 216.81h0.56M21.62 198.32h0.56M21.89 214.39h0.56M30.03 220.18h0.56M33.08 207.52h0.56M34.31 221.13h0.56M31.34 217.76h0.56M22.61 216.59h0.56M23.87 201.16h0.56M27.26 214.38h0.56M28.73 209.72h0.56M24.03 214.85h0.56M25.32 199h0.56M29.46 227.45h0.56M26.99 202.44h0.56M35.88 230.03h0.56M27.54 210.9h0.56M29.67 222.89h0.56M31.21 194.9h0.56M23.52 200.74h0.56M31.16 214.06h0.56" stroke="#888" stroke-width="0.56" opacity="1.0"/>
<path d="M37.21 193.68h0.6M34.55 194.09h0.6M34.25 196.77h0.6M34.51 195.76h0.6M36.33 193.27h0.6M35.23 193.54h0.6M34.2 194.19h0.6M34.04 193.44h0.6M36.79 193.68h0.6M35.26 196.01h0.6M35.12 195.23h0.6M36.49 195.3h0.6M37.08 192.29h0.6M37.51 194.03h0.6M30.86 193.23h0.6M31.5 193.97h0.6M31.33 192.8h0.6M34.53 194.19h0.6M32.57 193.72h0.6M33.82 194.09h0.6M33.99 193.74h0.6M35.58 192.08h0.6M33.11 194.16h0.6M33.28 193.34h0.6M33.21 194.25h0.6M36.24 193.78h0.6M33.52 194.43h0.6M33.56 191.68h0.6M34.48 193.55h0.6M32.97 194.75h0.6M34.08 193.32h0.6M30.08 191.94h0.6M34.03 193.86h0.6M34.79 194.27h0.6M33.14 192.48h0.6M32.03 193.83h0.6M31.93 194.91h0.6M31.61 191.85h0.6M33.65 191.87h0.6M36.93 192.81h0.6" stroke="#555" stroke-width="0.6" opacity="1.0"/>
<ellipse cx="48" cy="204.5" rx="2" ry="2" fill="#777" opacity="0.6" filter="url(#b1_0)" transform="rotate(0 48 204.5)"/>
<path d="M47.89 203.96h0.56M46.2 200.61h0.56M43.91 206.4h0.56M50.25 209.26h0.56M44.78 205.73h0.56M47.97 206.36h0.56M46.87 206.09h0.56M49.97 205.83h0.56M51.18 204.12h0.56M51.4 202.96h0.56M48.03 202.74h0.56M48 206.77h0.56M49.58 204.71h0.56M51.74 201.25h0.56M46.21 207.82h0.56M48.72 199.94h0.56M48.75 201.89h0.56M51.25 207.02h0.56M46.8 207.35h0.56M46.17 206.52h0.56M49.27 204.22h0.56M44.87 203.88h0.56M42.96 203.26h0.56M43.93 207.17h0.56M49.29 205.31h0.56M46.89 209.16h0.56M49.7 204.65h0.56M49.06 206.61h0.56M46.7 201.39h0.56M47.91 200.82h0.56M48.02 206.2h0.56M51.32 205.08h0.56M48.43 206.15h0.56M51.08 203.8h0.56M45.3 202.76h0.56M45.23 202.54h0.56M47.73 205.25h0.56" stroke="#777" stroke-width="0.56" opacity="1.0"/>
<ellipse cx="102.5" cy="217.5" rx="5" ry="4" fill="#999" opacity="0.35" filter="url(#b2)" transform="rotate(0 102.5 217.5)"/>
<path d="M103.17 216.49h0.56M99.32 218.96h0.56M108.64 221.32h0.56M113.23 213.97h0.56M100.11 227.86h0.56M103.51 218.89h0.56M99.48 222.78h0.56M98.98 208.95h0.56M101.55 212.9h0.56M108.25 213.36h0.56M102.93 214.48h0.56M104.55 211.59h0.56M110.29 206.03h0.56M99.11 211.04h0.56M106.86 216.28h0.56M105.64 213.69h0.56M96.62 208.16h0.56M99.49 212.25h0.56M104.1 218.48h0.56M109.33 215.25h0.56M96.39 208.57h0.56M102.46 218.53h0.56M116.61 217.27h0.56M115.18 229.11h0.56M94.13 224.47h0.56M110.52 225.42h0.56M101.93 222.69h0.56M98.39 215.51h0.56M102.14 228.48h0.56M100.39 222.69h0.56M102.5 211.04h0.56M103.82 220.62h0.56M96.66 220.44h0.56M96.66 209.86h0.56M103.65 214.35h0.56M94.63 204.59h0.56M102.17 217.7h0.56M98.55 217.31h0.56M90.55 218.75h0.56M105.12 217.95h0.56M97.4 216.56h0.56M102.98 223.49h0.56M104.07 217.78h0.56M96.57 222.03h0.56M110.79 212.55h0.56M106.79 218.16h0.56M101.65 207h0.56M115.17 202.94h0.56M104.27 213.37h0.56M110.58 213.04h0.56M102.3 220.27h0.56M105.42 212.36h0.56M107.1 218.74h0.56M109.41 212.43h0.56M101.65 213.27h0.56M95.72 217.78h0.56M105.06 225.92h0.56M99.56 218.71h0.56M110.55 215.2h0.56M102.47 216.94h0.56M96.84 209.1h0.56M110.36 217.21h0.56M101.44 207.33h0.56M102.88 224.19h0.56M93.4 209.78h0.56M110.29 225.98h0.56M113.6 212.15h0.56M106.48 210.76h0.56M105.89 213.46h0.56M103.47 225.35h0.56M104.53 214.32h0.56M102.42 217.85h0.56M98.17 217.44h0.56M106.48 226.86h0.56M86.62 207.71h0.56M92.77 222.1h0.56M120.2 217.35h0.56M102.91 223.93h0.56M83.79 214.75h0.56M98.21 212.63h0.56M104.53 211.94h0.56M110.28 215.98h0.56M104.84 233.65h0.56M98.66 222.44h0.56M95.84 224.67h0.56M109.18 216.97h0.56M109.38 227.18h0.56M112.26 216.01h0.56M101.59 223.69h0.56M91.05 211.82h0.56M105.61 219.95h0.56M115.84 228.21h0.56M104.41 219.06h0.56M92.2 214.72h0.56M103.94 214.43h0.56M102.45 220.22h0.56M94.93 212.06h0.56M88.8 223.94h0.56M94.16 204.2h0.56M107.72 214.52h0.56M109.17 213.45h0.56M117.78 220.95h0.56M103.12 216.8h0.56M100.47 221.6h0.56M116.84 213.08h0.56M93.93 220.14h0.56M109.91 205.67h0.56M96.87 209.1h0.56M106.17 219.5h0.56M96.56 208.21h0.56M107.06 201.78h0.56M106.77 214.93h0.56M116.22 222.87h0.56M97.71 214.11h0.56M99.95 210.97h0.56M102.6 222.66h0.56M90.84 214.43h0.56M113.04 221.12h0.56M95.98 210.43h0.56M95.68 204.92h0.56M110.5 216.48h0.56M96.84 206.11h0.56M99.16 212.47h0.56M114.72 212.83h0.56M102.85 223.39h0.56M106.93 214.75h0.56M85.89 225.66h0.56M106.42 213.01h0.56M101.35 209.42h0.56M95.37 205.78h0.56M105.7 219.57h0.56M103.29 221.37h0.56M105.95 216.84h0.56M95.49 220.07h0.56M110.75 220.34h0.56M111.2 212.75h0.56M94.78 224.61h0.56M97.7 217.67h0.56M100.6 216.15h0.56M100.01 212.29h0.56M88.87 229.1h0.56M103.5 202.77h0.56M95.32 208.26h0.56M96.54 198.5h0.56M106.23 227.26h0.56M100.19 221.11h0.56M106.42 207.45h0.56M110.97 204.43h0.56M97.77 213.54h0.56M111.24 216.82h0.56M101.09 210.48h0.56M102.66 216.29h0.56M107.37 225.57h0.56M107.42 216.13h0.56M100.88 226.98h0.56M103.48 215.89h0.56M115.2 226.75h0.56M106.18 215.25h0.56M97.34 223.31h0.56M98.67 222.58h0.56M96.25 216.72h0.56M104.95 216.99h0.56M103.72 218.61h0.56M93.76 208.4h0.56M100.92 228.36h0.56M101.09 209.66h0.56M97.16 216.23h0.56M110.67 212.13h0.56M106.11 217.28h0.56M99.39 209.54h0.56M100.89 211.05h0.56M105.94 203.95h0.56M110.27 221.19h0.56M106.24 226.24h0.56M106.42 204.32h0.56M102.39 219.08h0.56M96.99 208.27h0.56M105.17 219.5h0.56M98.89 214.34h0.56M98.29 212.12h0.56M101.58 223.34h0.56M90.22 213.68h0.56M113.81 218.17h0.56M103.13 221.71h0.56M94.66 207.74h0.56M89.86 206.05h0.56M103.82 221.8h0.56M98.95 211.36h0.56M104.95 220.19h0.56M103.88 203.01h0.56M98.02 198.72h0.56M103.78 210.21h0.56M97.21 226.25h0.56M111.66 219.29h0.56M104.02 217.18h0.56M97.72 215.65h0.56M115.97 210.03h0.56M97.16 217.11h0.56M108.52 221.68h0.56M94.94 215.11h0.56M100.07 207.6h0.56M102.57 212.72h0.56M108.71 218.95h0.56M96.31 216.55h0.56M99.4 211.68h0.56M98.45 223.25h0.56M98.98 204.33h0.56M96.35 221.5h0.56M117.7 208.83h0.56M99.41 213.76h0.56M91.74 218.74h0.56M101.63 217.9h0.56M118.33 214.19h0.56M107.79 221.68h0.56M97.36 211.97h0.56M113.36 220.87h0.56M103.05 208.56h0.56M108.44 219.59h0.56M118.03 226.04h0.56M107.86 217.83h0.56M102.45 212.25h0.56M104.25 217.66h0.56M106.75 223.4h0.56M104.28 212.31h0.56M107.89 226.57h0.56M95.91 218.86h0.56M106 219.65h0.56M105.68 215.38h0.56M101.26 227.48h0.56M114.63 206.46h0.56M83.5 218.98h0.56M97.09 212.49h0.56M90.38 218.41h0.56M101.6 212.33h0.56M108.55 232.55h0.56M112.75 223.99h0.56M99 220.48h0.56M101.73 223.87h0.56M106.25 215.76h0.56M106.03 211.12h0.56M107.78 226.23h0.56M99.37 219.78h0.56M89.86 222.38h0.56M108.4 209.06h0.56M114.71 216.78h0.56M89.39 206.69h0.56M108.37 214.15h0.56M110.04 205.46h0.56M101.28 222.65h0.56M97.06 220.63h0.56M99.39 218.34h0.56M104.35 231.19h0.56M92.98 221.3h0.56M111.56 208.36h0.56M102.6 231.71h0.56M109.65 195.83h0.56M100.27 204.37h0.56M104.21 211.06h0.56M97.91 210.31h0.56M104.15 212.83h0.56M95.41 214.46h0.56M104.96 210.18h0.56M110.09 204.71h0.56M104.97 213.36h0.56M113.46 211.63h0.56M97.17 206.88h0.56M116.47 220.2h0.56M94.1 213.72h0.56M95.02 226.36h0.56M105.05 202.15h0.56M103.53 222.22h0.56M102.01 219.22h0.56M101.2 217.42h0.56M103.55 211.19h0.56M104.54 217.13h0.56M101.72 211.35h0.56M94.61 217.68h0.56M108.02 199.56h0.56M98.1 225.21h0.56M108.67 211.15h0.56M111.86 209.29h0.56M96.25 229.2h0.56M98.82 214.53h0.56M89.98 209.12h0.56M93.43 215.06h0.56M88.62 223.23h0.56M99.41 211.88h0.56M97.38 221.06h0.56M113.18 213.23h0.56M113.77 226.96h0.56M111.79 218.03h0.56M91.14 220.59h0.56M99.02 217.32h0.56M88.25 214.08h0.56M103.7 209.62h0.56M104.14 227.39h0.56M103.68 211.34h0.56M119.4 201.34h0.56M95.29 218.78h0.56" stroke="#999" stroke-width="0.56" opacity="1.0"/>
<path d="M101.56 211.3h0.56M103.63 220.43h0.56M101.07 222.28h0.56M104.22 221.48h0.56M99.29 217.99h0.56M106.89 223.89h0.56M106.21 218h0.56M103.45 216.17h0.56M105.67 215.97h0.56M103.3 211.97h0.56M99.34 223.2h0.56M103.14 218.63h0.56M97.65 217.9h0.56M108.05 213.63h0.56M97.21 217.53h0.56M101.71 217.39h0.56M99.94 214.03h0.56M99.99 219.88h0.56M102.88 220.41h0.56M100.37 219.73h0.56M101.92 218.26h0.56M105.28 218.1h0.56M102.14 213.12h0.56M103.16 220.3h0.56M101.46 217.81h0.56M98.68 214.09h0.56M103.99 221.8h0.56M102.24 213.09h0.56M102.07 213.41h0.56M102.33 223.67h0.56M103.73 217.55h0.56M105.54 216.88h0.56M103.81 218.59h0.56M104.09 213.68h0.56M104.74 220.59h0.56M97.41 210.02h0.56M100.81 222.39h0.56M103.05 220h0.56M104.36 220.62h0.56M101.43 216.28h0.56M103.92 219.79h0.56M104.41 219h0.56M101.81 221.26h0.56M104.16 221.14h0.56M96.76 220.98h0.56M97 218.62h0.56M101.37 218.36h0.56M101.83 217.08h0.56M103.47 219.02h0.56M101.03 210.53h0.56M101.08 219.6h0.56M100.92 219.27h0.56M102.09 215.21h0.56M105.88 222.9h0.56M102.75 217.85h0.56M105.36 214.07h0.56M100.85 221.35h0.56M105.22 216.54h0.56M101.08 219.04h0.56M99.53 216.52h0.56" stroke="#666" stroke-width="0.56" opacity="1.0"/>
<path d="M118.43 192.58h0.6M120.46 196.41h0.6M121.64 193.79h0.6M115.83 194.53h0.6M115.77 197.94h0.6M116.58 195.13h0.6M119.51 196.04h0.6M122.59 194.21h0.6M121.18 195.68h0.6M116.1 195.68h0.6M115.53 197.43h0.6M117.19 196.7h0.6M122.22 194.76h0.6M116.78 195.66h0.6M116.4 196.57h0.6M119.44 194.59h0.6M117.3 196.36h0.6M115.4 197.51h0.6M117.05 195.27h0.6M116.7 197.44h0.6M121.05 197.05h0.6M120.62 195.61h0.6M123.21 196.29h0.6M120.09 196.19h0.6M120.83 195.83h0.6M118.59 193.6h0.6M124.12 193.95h0.6M113.64 194.65h0.6M123.81 196.96h0.6M117.5 195.82h0.6" stroke="#999" stroke-width="0.6" opacity="1.0"/>
<rect x="18.1" y="191.7" width="21.9" height="41.5" fill="none" stroke="#666" stroke-width="0.8" />
<rect x="42.2" y="199.2" width="12.5" height="10.6" fill="none" stroke="#aaa" stroke-width="0.6" />
<rect x="110.7" y="191.5" width="19.2" height="8" fill="none" stroke="#666" stroke-width="0.8" />
<rect x="120.8" y="200.3" width="9.1" height="33.4" fill="none" stroke="#666" stroke-width="0.7" />
<text x="19.5" y="189" font-size="6.6" font-weight="normal" text-anchor="start" fill="#000" textLength="23" lengthAdjust="spacingAndGlyphs" stroke="#000" stroke-width="0.15">78±13%</text>
<text x="42" y="218" font-size="6.6" font-weight="normal" text-anchor="start" fill="#000" textLength="18.5" lengthAdjust="spacingAndGlyphs" stroke="#000" stroke-width="0.15">22±9%</text>
<rect x="103" y="186.4" width="0.95" height="4.4" fill="#1a1a1a" stroke="none" stroke-width="0.8" />
<text x="107.7" y="191" font-size="6.6" font-weight="normal" text-anchor="start" fill="#000" textLength="18.3" lengthAdjust="spacingAndGlyphs" stroke="#000" stroke-width="0.15">13±8%</text>
<rect x="97" y="228.4" width="0.75" height="4.4" fill="#1a1a1a" stroke="none" stroke-width="0.8" />
<rect x="98.25" y="228.4" width="0.75" height="4.4" fill="#1a1a1a" stroke="none" stroke-width="0.8" />
<text x="101.2" y="233" font-size="6.6" font-weight="normal" text-anchor="start" fill="#000" textLength="18.2" lengthAdjust="spacingAndGlyphs" stroke="#000" stroke-width="0.15">17±8%</text>
<line x1="40" y1="196.8" x2="79.7" y2="196.8" stroke="#000" stroke-width="0.9"/>
<path d="M78.2 193.5L83.7 196.8L78.2 200.1Z" fill="#000"/>
<line x1="12.6" y1="210" x2="12.6" y2="233" stroke="#222" stroke-width="0.7"/>
<text x="10.6" y="224" font-size="6.6" font-weight="normal" text-anchor="middle" fill="#000" transform="rotate(-90 10.6 224)" textLength="15.5" lengthAdjust="spacingAndGlyphs" stroke="#000" stroke-width="0.25">Ly6C</text>
<line x1="16.9" y1="236" x2="37.3" y2="236" stroke="#999" stroke-width="0.7"/>
<text x="16.9" y="243.4" font-size="6.6" font-weight="normal" text-anchor="start" fill="#000" textLength="16" lengthAdjust="spacingAndGlyphs" stroke="#000" stroke-width="0.15">Ly6G</text>
<line x1="81.3" y1="211" x2="81.3" y2="233" stroke="#222" stroke-width="0.7"/>
<text x="78.8" y="223" font-size="6.6" font-weight="normal" text-anchor="middle" fill="#000" transform="rotate(-90 78.8 223)" textLength="21.4" lengthAdjust="spacingAndGlyphs" stroke="#000" stroke-width="0.25">Ly6-C</text>
<line x1="85.3" y1="235.8" x2="108" y2="235.8" stroke="#222" stroke-width="0.7"/>
<text x="86" y="243.7" font-size="6.6" font-weight="normal" text-anchor="start" fill="#000" textLength="26" lengthAdjust="spacingAndGlyphs" stroke="#000" stroke-width="0.15">CX3CR1</text>
<text x="142.1" y="9" font-size="10.8" font-weight="bold" text-anchor="start" fill="#000">B</text>
<line x1="186.4" y1="57.1" x2="186.4" y2="55.2" stroke="#000" stroke-width="0.7"/>
<line x1="183.6" y1="55.2" x2="189.2" y2="55.2" stroke="#000" stroke-width="0.7"/>
<rect x="180.75" y="57.1" width="11.3" height="27.1" fill="#fff" stroke="#111" stroke-width="0.7" />
<line x1="204.1" y1="50.9" x2="204.1" y2="45.4" stroke="#000" stroke-width="0.7"/>
<line x1="201.3" y1="45.4" x2="206.9" y2="45.4" stroke="#000" stroke-width="0.7"/>
<rect x="198.4" y="51.1" width="11.4" height="33.1" fill="#000" stroke="#000" stroke-width="0.4" />
<line x1="221.5" y1="27.4" x2="221.5" y2="23.5" stroke="#000" stroke-width="0.7"/>
<line x1="218.7" y1="23.5" x2="224.3" y2="23.5" stroke="#000" stroke-width="0.7"/>
<rect x="215.85" y="27.4" width="11.3" height="56.8" fill="#fff" stroke="#111" stroke-width="0.7" />
<line x1="239.2" y1="26.6" x2="239.2" y2="22.4" stroke="#000" stroke-width="0.7"/>
<line x1="236.4" y1="22.4" x2="242" y2="22.4" stroke="#000" stroke-width="0.7"/>
<rect x="233.4" y="26.8" width="11.6" height="57.4" fill="#000" stroke="#000" stroke-width="0.4" />
<line x1="178" y1="13.9" x2="178" y2="84.2" stroke="#000" stroke-width="0.8"/>
<line x1="178" y1="84.2" x2="249.2" y2="84.2" stroke="#000" stroke-width="0.8"/>
<line x1="186.4" y1="84.2" x2="186.4" y2="86" stroke="#000" stroke-width="0.6"/>
<line x1="204.1" y1="84.2" x2="204.1" y2="86" stroke="#000" stroke-width="0.6"/>
<line x1="221.5" y1="84.2" x2="221.5" y2="86" stroke="#000" stroke-width="0.6"/>
<line x1="239.2" y1="84.2" x2="239.2" y2="86" stroke="#000" stroke-width="0.6"/>
<line x1="176.2" y1="84.2" x2="178" y2="84.2" stroke="#000" stroke-width="0.6"/>
<text x="175.6" y="86.3" font-size="5.6" font-weight="normal" text-anchor="end" fill="#000" stroke="#000" stroke-width="0.12">0</text>
<line x1="176.2" y1="66.7" x2="178" y2="66.7" stroke="#000" stroke-width="0.6"/>
<text x="175.6" y="68.8" font-size="5.6" font-weight="normal" text-anchor="end" fill="#000" stroke="#000" stroke-width="0.12">5</text>
<line x1="176.2" y1="49.2" x2="178" y2="49.2" stroke="#000" stroke-width="0.6"/>
<text x="175.6" y="51.3" font-size="5.6" font-weight="normal" text-anchor="end" fill="#000" stroke="#000" stroke-width="0.12">10</text>
<line x1="176.2" y1="31.7" x2="178" y2="31.7" stroke="#000" stroke-width="0.6"/>
<text x="175.6" y="33.8" font-size="5.6" font-weight="normal" text-anchor="end" fill="#000" stroke="#000" stroke-width="0.12">15</text>
<line x1="176.2" y1="14.2" x2="178" y2="14.2" stroke="#000" stroke-width="0.6"/>
<text x="175.6" y="16.3" font-size="5.6" font-weight="normal" text-anchor="end" fill="#000" stroke="#000" stroke-width="0.12">20</text>
<rect x="153" y="7.7" width="1.2" height="5.4" fill="#111" stroke="none" stroke-width="0.8" />
<text x="155.6" y="48.75" font-size="5.9" font-weight="normal" text-anchor="middle" fill="#000" transform="rotate(-90 155.6 48.75)" stroke="#000" stroke-width="0.08">Number of</text>
<text x="163.3" y="49.25" font-size="6.1" font-weight="normal" text-anchor="middle" fill="#000" transform="rotate(-90 163.3 49.25)" stroke="#000" stroke-width="0.08">Ly6C<tspan font-size="3.9" dy="-1.9">high</tspan><tspan dy="1.9">-monocytes (x10</tspan><tspan font-size="3.9" dy="-1.9">3</tspan><tspan dy="1.9">)</tspan></text>
<polyline points="187.4,14.3 187.4,12.7 221,12.7 221,14.3" fill="none" stroke="#333" stroke-width="0.6"/>
<text x="203.6" y="13.3" font-size="5.4" font-weight="normal" text-anchor="middle" fill="#000" stroke="#000" stroke-width="0.12">***</text>
<polyline points="205.3,20.1 205.3,18.5 239.2,18.5 239.2,20.1" fill="none" stroke="#333" stroke-width="0.6"/>
<text x="221.9" y="19.6" font-size="5.4" font-weight="normal" text-anchor="middle" fill="#000" stroke="#000" stroke-width="0.12">**</text>
<line x1="297.2" y1="47" x2="297.2" y2="43.8" stroke="#000" stroke-width="0.7"/>
<line x1="294.4" y1="43.8" x2="300" y2="43.8" stroke="#000" stroke-width="0.7"/>
<rect x="291.55" y="47" width="11.3" height="35.6" fill="#fff" stroke="#111" stroke-width="0.7" />
<line x1="314.65" y1="45.9" x2="314.65" y2="42.7" stroke="#000" stroke-width="0.7"/>
<line x1="311.85" y1="42.7" x2="317.45" y2="42.7" stroke="#000" stroke-width="0.7"/>
<rect x="309.1" y="46.1" width="11.1" height="36.5" fill="#000" stroke="#000" stroke-width="0.4" />
<line x1="332.4" y1="37.1" x2="332.4" y2="34.4" stroke="#000" stroke-width="0.7"/>
<line x1="329.6" y1="34.4" x2="335.2" y2="34.4" stroke="#000" stroke-width="0.7"/>
<rect x="326.75" y="37.1" width="11.3" height="45.5" fill="#fff" stroke="#111" stroke-width="0.7" />
<line x1="349.9" y1="30.5" x2="349.9" y2="24.6" stroke="#000" stroke-width="0.7"/>
<line x1="347.1" y1="24.6" x2="352.7" y2="24.6" stroke="#000" stroke-width="0.7"/>
<rect x="344.4" y="30.7" width="11" height="51.9" fill="#000" stroke="#000" stroke-width="0.4" />
<line x1="288.3" y1="13" x2="288.3" y2="82.6" stroke="#000" stroke-width="0.8"/>
<line x1="288.3" y1="82.6" x2="359.6" y2="82.6" stroke="#000" stroke-width="0.8"/>
<line x1="297.2" y1="82.6" x2="297.2" y2="84.4" stroke="#000" stroke-width="0.6"/>
<line x1="314.65" y1="82.6" x2="314.65" y2="84.4" stroke="#000" stroke-width="0.6"/>
<line x1="332.4" y1="82.6" x2="332.4" y2="84.4" stroke="#000" stroke-width="0.6"/>
<line x1="349.9" y1="82.6" x2="349.9" y2="84.4" stroke="#000" stroke-width="0.6"/>
<line x1="286.5" y1="82.6" x2="288.3" y2="82.6" stroke="#000" stroke-width="0.6"/>
<text x="285.9" y="84.7" font-size="5.6" font-weight="normal" text-anchor="end" fill="#000" stroke="#000" stroke-width="0.12">0.0</text>
<line x1="286.5" y1="68.74" x2="288.3" y2="68.74" stroke="#000" stroke-width="0.6"/>
<text x="285.9" y="70.84" font-size="5.6" font-weight="normal" text-anchor="end" fill="#000" stroke="#000" stroke-width="0.12">0.5</text>
<line x1="286.5" y1="54.88" x2="288.3" y2="54.88" stroke="#000" stroke-width="0.6"/>
<text x="285.9" y="56.98" font-size="5.6" font-weight="normal" text-anchor="end" fill="#000" stroke="#000" stroke-width="0.12">1.0</text>
<line x1="286.5" y1="41.02" x2="288.3" y2="41.02" stroke="#000" stroke-width="0.6"/>
<text x="285.9" y="43.12" font-size="5.6" font-weight="normal" text-anchor="end" fill="#000" stroke="#000" stroke-width="0.12">1.5</text>
<line x1="286.5" y1="27.16" x2="288.3" y2="27.16" stroke="#000" stroke-width="0.6"/>
<text x="285.9" y="29.26" font-size="5.6" font-weight="normal" text-anchor="end" fill="#000" stroke="#000" stroke-width="0.12">2.0</text>
<line x1="286.5" y1="13.3" x2="288.3" y2="13.3" stroke="#000" stroke-width="0.6"/>
<text x="285.9" y="15.4" font-size="5.6" font-weight="normal" text-anchor="end" fill="#000" stroke="#000" stroke-width="0.12">2.5</text>
<rect x="262.2" y="7.6" width="1.2" height="4.8" fill="#111" stroke="none" stroke-width="0.8" />
<rect x="264" y="7.6" width="1.2" height="4.8" fill="#111" stroke="none" stroke-width="0.8" />
<text x="266.1" y="49" font-size="5.9" font-weight="normal" text-anchor="middle" fill="#000" transform="rotate(-90 266.1 49)" stroke="#000" stroke-width="0.08">Number of</text>
<text x="273.8" y="49.25" font-size="6.1" font-weight="normal" text-anchor="middle" fill="#000" transform="rotate(-90 273.8 49.25)" stroke="#000" stroke-width="0.08">Ly6C<tspan font-size="3.9" dy="-1.9">low</tspan><tspan dy="1.9">-monocytes (x10</tspan><tspan font-size="3.9" dy="-1.9">3</tspan><tspan dy="1.9">)</tspan></text>
<line x1="186.9" y1="152.3" x2="186.9" y2="150.4" stroke="#000" stroke-width="0.7"/>
<line x1="184.1" y1="150.4" x2="189.7" y2="150.4" stroke="#000" stroke-width="0.7"/>
<rect x="181.25" y="152.3" width="11.3" height="10" fill="#fff" stroke="#111" stroke-width="0.7" />
<line x1="204.4" y1="155.2" x2="204.4" y2="152.3" stroke="#000" stroke-width="0.7"/>
<line x1="201.6" y1="152.3" x2="207.2" y2="152.3" stroke="#000" stroke-width="0.7"/>
<rect x="198.8" y="155.4" width="11.2" height="6.9" fill="#000" stroke="#000" stroke-width="0.4" />
<line x1="222.1" y1="127.5" x2="222.1" y2="124.3" stroke="#000" stroke-width="0.7"/>
<line x1="219.3" y1="124.3" x2="224.9" y2="124.3" stroke="#000" stroke-width="0.7"/>
<rect x="216.55" y="127.5" width="11.1" height="34.8" fill="#fff" stroke="#111" stroke-width="0.7" />
<line x1="239.6" y1="115" x2="239.6" y2="110.6" stroke="#000" stroke-width="0.7"/>
<line x1="236.8" y1="110.6" x2="242.4" y2="110.6" stroke="#000" stroke-width="0.7"/>
<rect x="233.8" y="115.2" width="11.6" height="47.1" fill="#000" stroke="#000" stroke-width="0.4" />
<line x1="178.1" y1="93.5" x2="178.1" y2="162.3" stroke="#000" stroke-width="0.8"/>
<line x1="178.1" y1="162.3" x2="249.6" y2="162.3" stroke="#000" stroke-width="0.8"/>
<line x1="186.9" y1="162.3" x2="186.9" y2="164.1" stroke="#000" stroke-width="0.6"/>
<line x1="204.4" y1="162.3" x2="204.4" y2="164.1" stroke="#000" stroke-width="0.6"/>
<line x1="222.1" y1="162.3" x2="222.1" y2="164.1" stroke="#000" stroke-width="0.6"/>
<line x1="239.6" y1="162.3" x2="239.6" y2="164.1" stroke="#000" stroke-width="0.6"/>
<line x1="176.3" y1="162.3" x2="178.1" y2="162.3" stroke="#000" stroke-width="0.6"/>
<text x="175.7" y="164.4" font-size="5.6" font-weight="normal" text-anchor="end" fill="#000" stroke="#000" stroke-width="0.12">0</text>
<line x1="176.3" y1="139.47" x2="178.1" y2="139.47" stroke="#000" stroke-width="0.6"/>
<text x="175.7" y="141.57" font-size="5.6" font-weight="normal" text-anchor="end" fill="#000" stroke="#000" stroke-width="0.12">50</text>
<line x1="176.3" y1="116.63" x2="178.1" y2="116.63" stroke="#000" stroke-width="0.6"/>
<text x="175.7" y="118.73" font-size="5.6" font-weight="normal" text-anchor="end" fill="#000" stroke="#000" stroke-width="0.12">100</text>
<line x1="176.3" y1="93.8" x2="178.1" y2="93.8" stroke="#000" stroke-width="0.6"/>
<text x="175.7" y="95.9" font-size="5.6" font-weight="normal" text-anchor="end" fill="#000" stroke="#000" stroke-width="0.12">150</text>
<rect x="153.1" y="88.9" width="1.2" height="5.4" fill="#111" stroke="none" stroke-width="0.8" />
<text x="156.1" y="127.2" font-size="5.9" font-weight="normal" text-anchor="middle" fill="#000" transform="rotate(-90 156.1 127.2)" stroke="#000" stroke-width="0.08">Number/ml of</text>
<text x="163.7" y="127.2" font-size="6.1" font-weight="normal" text-anchor="middle" fill="#000" transform="rotate(-90 163.7 127.2)" stroke="#000" stroke-width="0.08">Ly6C<tspan font-size="3.9" dy="-1.9">high</tspan><tspan dy="1.9">-monocytes (x10</tspan><tspan font-size="3.9" dy="-1.9">3</tspan><tspan dy="1.9">)</tspan></text>
<polyline points="187.5,97.4 187.5,95.8 240,95.8 240,97.4" fill="none" stroke="#333" stroke-width="0.6"/>
<text x="204.4" y="96.6" font-size="5.4" font-weight="normal" text-anchor="middle" fill="#000" stroke="#000" stroke-width="0.12">***</text>
<polyline points="206.1,102.3 206.1,100.7 240,100.7 240,102.3" fill="none" stroke="#333" stroke-width="0.6"/>
<text x="222.2" y="102.3" font-size="5.4" font-weight="normal" text-anchor="middle" fill="#000" stroke="#000" stroke-width="0.12">***</text>
<text x="230.4" y="96.6" font-size="5.4" font-weight="normal" text-anchor="middle" fill="#000" stroke="#000" stroke-width="0.12">*</text>
<line x1="220.7" y1="95.8" x2="220.7" y2="97.4" stroke="#333" stroke-width="0.5"/>
<line x1="297.25" y1="111.3" x2="297.25" y2="106.3" stroke="#000" stroke-width="0.7"/>
<line x1="294.45" y1="106.3" x2="300.05" y2="106.3" stroke="#000" stroke-width="0.7"/>
<rect x="291.65" y="111.3" width="11.2" height="51" fill="#fff" stroke="#111" stroke-width="0.7" />
<line x1="314.8" y1="133.6" x2="314.8" y2="128.5" stroke="#000" stroke-width="0.7"/>
<line x1="312" y1="128.5" x2="317.6" y2="128.5" stroke="#000" stroke-width="0.7"/>
<rect x="309.4" y="133.8" width="10.8" height="28.5" fill="#000" stroke="#000" stroke-width="0.4" />
<line x1="331.9" y1="131" x2="331.9" y2="129.4" stroke="#000" stroke-width="0.7"/>
<line x1="329.1" y1="129.4" x2="334.7" y2="129.4" stroke="#000" stroke-width="0.7"/>
<rect x="326.35" y="131" width="11.1" height="31.3" fill="#fff" stroke="#111" stroke-width="0.7" />
<line x1="349.4" y1="129" x2="349.4" y2="124.3" stroke="#000" stroke-width="0.7"/>
<line x1="346.6" y1="124.3" x2="352.2" y2="124.3" stroke="#000" stroke-width="0.7"/>
<rect x="343.8" y="129.2" width="11.2" height="33.1" fill="#000" stroke="#000" stroke-width="0.4" />
<line x1="288.3" y1="92.4" x2="288.3" y2="162.3" stroke="#000" stroke-width="0.8"/>
<line x1="288.3" y1="162.3" x2="359.2" y2="162.3" stroke="#000" stroke-width="0.8"/>
<line x1="297.25" y1="162.3" x2="297.25" y2="164.1" stroke="#000" stroke-width="0.6"/>
<line x1="314.8" y1="162.3" x2="314.8" y2="164.1" stroke="#000" stroke-width="0.6"/>
<line x1="331.9" y1="162.3" x2="331.9" y2="164.1" stroke="#000" stroke-width="0.6"/>
<line x1="349.4" y1="162.3" x2="349.4" y2="164.1" stroke="#000" stroke-width="0.6"/>
<line x1="286.5" y1="162.3" x2="288.3" y2="162.3" stroke="#000" stroke-width="0.6"/>
<text x="285.9" y="164.4" font-size="5.6" font-weight="normal" text-anchor="end" fill="#000" stroke="#000" stroke-width="0.12">0</text>
<line x1="286.5" y1="144.9" x2="288.3" y2="144.9" stroke="#000" stroke-width="0.6"/>
<text x="285.9" y="147" font-size="5.6" font-weight="normal" text-anchor="end" fill="#000" stroke="#000" stroke-width="0.12">10</text>
<line x1="286.5" y1="127.5" x2="288.3" y2="127.5" stroke="#000" stroke-width="0.6"/>
<text x="285.9" y="129.6" font-size="5.6" font-weight="normal" text-anchor="end" fill="#000" stroke="#000" stroke-width="0.12">20</text>
<line x1="286.5" y1="110.1" x2="288.3" y2="110.1" stroke="#000" stroke-width="0.6"/>
<text x="285.9" y="112.2" font-size="5.6" font-weight="normal" text-anchor="end" fill="#000" stroke="#000" stroke-width="0.12">30</text>
<line x1="286.5" y1="92.7" x2="288.3" y2="92.7" stroke="#000" stroke-width="0.6"/>
<text x="285.9" y="94.8" font-size="5.6" font-weight="normal" text-anchor="end" fill="#000" stroke="#000" stroke-width="0.12">40</text>
<rect x="261.9" y="88.2" width="1.2" height="4.8" fill="#111" stroke="none" stroke-width="0.8" />
<rect x="263.7" y="88.2" width="1.2" height="4.8" fill="#111" stroke="none" stroke-width="0.8" />
<text x="264.3" y="127" font-size="5.9" font-weight="normal" text-anchor="middle" fill="#000" transform="rotate(-90 264.3 127)" stroke="#000" stroke-width="0.08">Number/ml of</text>
<text x="272.3" y="127.2" font-size="6.1" font-weight="normal" text-anchor="middle" fill="#000" transform="rotate(-90 272.3 127.2)" stroke="#000" stroke-width="0.08">Ly6C<tspan font-size="3.9" dy="-1.9">low</tspan><tspan dy="1.9">-monocytes (x10</tspan><tspan font-size="3.9" dy="-1.9">3</tspan><tspan dy="1.9">)</tspan></text>
<polyline points="297.2,98.9 297.2,97.3 314.5,97.3 314.5,98.9" fill="none" stroke="#333" stroke-width="0.6"/>
<text x="305.9" y="98" font-size="5.4" font-weight="normal" text-anchor="middle" fill="#000" stroke="#000" stroke-width="0.12">*</text>
<polyline points="297.2,104 297.2,102.4 329.6,102.4 329.6,104" fill="none" stroke="#333" stroke-width="0.6"/>
<text x="313.1" y="103.8" font-size="5.4" font-weight="normal" text-anchor="middle" fill="#000" stroke="#000" stroke-width="0.12">*</text>
<line x1="186.3" y1="234" x2="186.3" y2="232.1" stroke="#000" stroke-width="0.7"/>
<line x1="183.5" y1="232.1" x2="189.1" y2="232.1" stroke="#000" stroke-width="0.7"/>
<rect x="180.55" y="234" width="11.5" height="10" fill="#fff" stroke="#111" stroke-width="0.7" />
<line x1="204" y1="235" x2="204" y2="233.3" stroke="#000" stroke-width="0.7"/>
<line x1="201.2" y1="233.3" x2="206.8" y2="233.3" stroke="#000" stroke-width="0.7"/>
<rect x="198.4" y="235.2" width="11.2" height="8.8" fill="#000" stroke="#000" stroke-width="0.4" />
<line x1="221.65" y1="218.3" x2="221.65" y2="215.9" stroke="#000" stroke-width="0.7"/>
<line x1="218.85" y1="215.9" x2="224.45" y2="215.9" stroke="#000" stroke-width="0.7"/>
<rect x="216.15" y="218.3" width="11" height="25.7" fill="#fff" stroke="#111" stroke-width="0.7" />
<line x1="239.4" y1="187.3" x2="239.4" y2="178.8" stroke="#000" stroke-width="0.7"/>
<line x1="236.6" y1="178.8" x2="242.2" y2="178.8" stroke="#000" stroke-width="0.7"/>
<rect x="233.8" y="187.5" width="11.2" height="56.5" fill="#000" stroke="#000" stroke-width="0.4" />
<line x1="178" y1="173.9" x2="178" y2="244" stroke="#000" stroke-width="0.8"/>
<line x1="178" y1="244" x2="249.2" y2="244" stroke="#000" stroke-width="0.8"/>
<line x1="186.3" y1="244" x2="186.3" y2="245.8" stroke="#000" stroke-width="0.6"/>
<line x1="204" y1="244" x2="204" y2="245.8" stroke="#000" stroke-width="0.6"/>
<line x1="221.65" y1="244" x2="221.65" y2="245.8" stroke="#000" stroke-width="0.6"/>
<line x1="239.4" y1="244" x2="239.4" y2="245.8" stroke="#000" stroke-width="0.6"/>
<line x1="176.2" y1="244" x2="178" y2="244" stroke="#000" stroke-width="0.6"/>
<text x="175.6" y="246.1" font-size="5.6" font-weight="normal" text-anchor="end" fill="#000" stroke="#000" stroke-width="0.12">0</text>
<line x1="176.2" y1="226.55" x2="178" y2="226.55" stroke="#000" stroke-width="0.6"/>
<text x="175.6" y="228.65" font-size="5.6" font-weight="normal" text-anchor="end" fill="#000" stroke="#000" stroke-width="0.12">10</text>
<line x1="176.2" y1="209.1" x2="178" y2="209.1" stroke="#000" stroke-width="0.6"/>
<text x="175.6" y="211.2" font-size="5.6" font-weight="normal" text-anchor="end" fill="#000" stroke="#000" stroke-width="0.12">20</text>
<line x1="176.2" y1="191.65" x2="178" y2="191.65" stroke="#000" stroke-width="0.6"/>
<text x="175.6" y="193.75" font-size="5.6" font-weight="normal" text-anchor="end" fill="#000" stroke="#000" stroke-width="0.12">30</text>
<line x1="176.2" y1="174.2" x2="178" y2="174.2" stroke="#000" stroke-width="0.6"/>
<text x="175.6" y="176.3" font-size="5.6" font-weight="normal" text-anchor="end" fill="#000" stroke="#000" stroke-width="0.12">40</text>
<rect x="153" y="169.6" width="1.2" height="5.4" fill="#111" stroke="none" stroke-width="0.8" />
<text x="155.9" y="208.5" font-size="5.9" font-weight="normal" text-anchor="middle" fill="#000" transform="rotate(-90 155.9 208.5)" stroke="#000" stroke-width="0.08">Number of</text>
<text x="163.7" y="208.8" font-size="6.1" font-weight="normal" text-anchor="middle" fill="#000" transform="rotate(-90 163.7 208.8)" stroke="#000" stroke-width="0.08">Ly6C<tspan font-size="3.9" dy="-1.9">high</tspan><tspan dy="1.9">-monocytes (x10</tspan><tspan font-size="3.9" dy="-1.9">3</tspan><tspan dy="1.9">)</tspan></text>
<polyline points="221.2,173.1 221.2,171.5 239.4,171.5 239.4,173.1" fill="none" stroke="#333" stroke-width="0.6"/>
<text x="230.3" y="172.1" font-size="5.4" font-weight="normal" text-anchor="middle" fill="#000" stroke="#000" stroke-width="0.12">***</text>
<polyline points="206.3,176.6 206.3,175 239.4,175 239.4,176.6" fill="none" stroke="#333" stroke-width="0.6"/>
<text x="220.7" y="176.9" font-size="5.4" font-weight="normal" text-anchor="middle" fill="#000" stroke="#000" stroke-width="0.12">***</text>
<line x1="297.15" y1="201.9" x2="297.15" y2="194.9" stroke="#000" stroke-width="0.7"/>
<line x1="294.35" y1="194.9" x2="299.95" y2="194.9" stroke="#000" stroke-width="0.7"/>
<rect x="291.65" y="201.9" width="11" height="41.3" fill="#fff" stroke="#111" stroke-width="0.7" />
<line x1="314.8" y1="203.2" x2="314.8" y2="198.5" stroke="#000" stroke-width="0.7"/>
<line x1="312" y1="198.5" x2="317.6" y2="198.5" stroke="#000" stroke-width="0.7"/>
<rect x="309.4" y="203.4" width="10.8" height="39.8" fill="#000" stroke="#000" stroke-width="0.4" />
<line x1="332.3" y1="221.5" x2="332.3" y2="219.4" stroke="#000" stroke-width="0.7"/>
<line x1="329.5" y1="219.4" x2="335.1" y2="219.4" stroke="#000" stroke-width="0.7"/>
<rect x="326.75" y="221.5" width="11.1" height="21.7" fill="#fff" stroke="#111" stroke-width="0.7" />
<line x1="349.8" y1="211" x2="349.8" y2="207.4" stroke="#000" stroke-width="0.7"/>
<line x1="347" y1="207.4" x2="352.6" y2="207.4" stroke="#000" stroke-width="0.7"/>
<rect x="344.2" y="211.2" width="11.2" height="32" fill="#000" stroke="#000" stroke-width="0.4" />
<line x1="288.3" y1="174.8" x2="288.3" y2="243.2" stroke="#000" stroke-width="0.8"/>
<line x1="288.3" y1="243.2" x2="359.6" y2="243.2" stroke="#000" stroke-width="0.8"/>
<line x1="297.15" y1="243.2" x2="297.15" y2="245" stroke="#000" stroke-width="0.6"/>
<line x1="314.8" y1="243.2" x2="314.8" y2="245" stroke="#000" stroke-width="0.6"/>
<line x1="332.3" y1="243.2" x2="332.3" y2="245" stroke="#000" stroke-width="0.6"/>
<line x1="349.8" y1="243.2" x2="349.8" y2="245" stroke="#000" stroke-width="0.6"/>
<line x1="286.5" y1="243.2" x2="288.3" y2="243.2" stroke="#000" stroke-width="0.6"/>
<text x="285.9" y="245.3" font-size="5.6" font-weight="normal" text-anchor="end" fill="#000" stroke="#000" stroke-width="0.12">0</text>
<line x1="286.5" y1="220.5" x2="288.3" y2="220.5" stroke="#000" stroke-width="0.6"/>
<text x="285.9" y="222.6" font-size="5.6" font-weight="normal" text-anchor="end" fill="#000" stroke="#000" stroke-width="0.12">5</text>
<line x1="286.5" y1="197.8" x2="288.3" y2="197.8" stroke="#000" stroke-width="0.6"/>
<text x="285.9" y="199.9" font-size="5.6" font-weight="normal" text-anchor="end" fill="#000" stroke="#000" stroke-width="0.12">10</text>
<line x1="286.5" y1="175.1" x2="288.3" y2="175.1" stroke="#000" stroke-width="0.6"/>
<text x="285.9" y="177.2" font-size="5.6" font-weight="normal" text-anchor="end" fill="#000" stroke="#000" stroke-width="0.12">15</text>
<rect x="261.9" y="170.4" width="1.2" height="4.8" fill="#111" stroke="none" stroke-width="0.8" />
<rect x="263.7" y="170.4" width="1.2" height="4.8" fill="#111" stroke="none" stroke-width="0.8" />
<text x="266.1" y="208.5" font-size="5.9" font-weight="normal" text-anchor="middle" fill="#000" transform="rotate(-90 266.1 208.5)" stroke="#000" stroke-width="0.08">Number of</text>
<text x="273.8" y="208.8" font-size="6.1" font-weight="normal" text-anchor="middle" fill="#000" transform="rotate(-90 273.8 208.8)" stroke="#000" stroke-width="0.08">Ly6C<tspan font-size="3.9" dy="-1.9">low</tspan><tspan dy="1.9">-monocytes (x10</tspan><tspan font-size="3.9" dy="-1.9">3</tspan><tspan dy="1.9">)</tspan></text>
<polyline points="297.2,178.3 297.2,176.7 330.4,176.7 330.4,178.3" fill="none" stroke="#333" stroke-width="0.6"/>
<text x="314.8" y="177.5" font-size="5.4" font-weight="normal" text-anchor="middle" fill="#000" stroke="#000" stroke-width="0.12">*</text>
<text x="195.8" y="248" font-size="5.1" text-anchor="end" fill="#222" stroke="#222" stroke-width="0.05" transform="rotate(-64 195.8 248)">CX3CR1<tspan font-size="3.2" dy="-1.6">gfp/+</tspan></text>
<text x="211.1" y="246.8" font-size="5.1" text-anchor="end" fill="#222" stroke="#222" stroke-width="0.05" transform="rotate(-64 211.1 246.8)">CX3CR1<tspan font-size="3.2" dy="-1.6">gfp/gfp</tspan></text>
<text x="230.85" y="248" font-size="5.1" text-anchor="end" fill="#222" stroke="#222" stroke-width="0.05" transform="rotate(-64 230.85 248)">CX3CR1<tspan font-size="3.2" dy="-1.6">gfp/+</tspan></text>
<text x="246.5" y="246.8" font-size="5.1" text-anchor="end" fill="#222" stroke="#222" stroke-width="0.05" transform="rotate(-64 246.5 246.8)">CX3CR1<tspan font-size="3.2" dy="-1.6">gfp/gfp</tspan></text>
<line x1="186.4" y1="274.2" x2="200.3" y2="274.2" stroke="#555" stroke-width="0.6"/>
<line x1="220.1" y1="274.2" x2="235.7" y2="274.2" stroke="#555" stroke-width="0.6"/>
<text x="193.4" y="280.2" font-size="5.7" font-weight="normal" text-anchor="middle" fill="#000" stroke="#000" stroke-width="0.1">Ctrl</text>
<text x="227.9" y="280.2" font-size="5.7" font-weight="normal" text-anchor="middle" fill="#000" stroke="#000" stroke-width="0.1">CP</text>
<text x="306.65" y="248" font-size="5.1" text-anchor="end" fill="#222" stroke="#222" stroke-width="0.05" transform="rotate(-64 306.65 248)">CX3CR1<tspan font-size="3.2" dy="-1.6">gfp/+</tspan></text>
<text x="321.9" y="246.8" font-size="5.1" text-anchor="end" fill="#222" stroke="#222" stroke-width="0.05" transform="rotate(-64 321.9 246.8)">CX3CR1<tspan font-size="3.2" dy="-1.6">gfp/gfp</tspan></text>
<text x="341.5" y="248" font-size="5.1" text-anchor="end" fill="#222" stroke="#222" stroke-width="0.05" transform="rotate(-64 341.5 248)">CX3CR1<tspan font-size="3.2" dy="-1.6">gfp/+</tspan></text>
<text x="356.9" y="246.8" font-size="5.1" text-anchor="end" fill="#222" stroke="#222" stroke-width="0.05" transform="rotate(-64 356.9 246.8)">CX3CR1<tspan font-size="3.2" dy="-1.6">gfp/gfp</tspan></text>
<line x1="295.8" y1="274.2" x2="311.3" y2="274.2" stroke="#555" stroke-width="0.6"/>
<line x1="331.2" y1="274.2" x2="345.9" y2="274.2" stroke="#555" stroke-width="0.6"/>
<text x="303.9" y="280.2" font-size="5.7" font-weight="normal" text-anchor="middle" fill="#000" stroke="#000" stroke-width="0.1">Ctrl</text>
<text x="338.2" y="280.2" font-size="5.7" font-weight="normal" text-anchor="middle" fill="#000" stroke="#000" stroke-width="0.1">CP</text>
<text x="364.9" y="9" font-size="10.8" font-weight="bold" text-anchor="start" fill="#000">C</text>
<rect x="382.2" y="9.6" width="58.4" height="58.8" fill="#f3f3f3" stroke="#777" stroke-width="0.7" />
<path d="M409.5 68.2 L410 60 L411.3 50 L413.5 42 L415.8 35.5 L417.4 31 L418.6 26 L419.6 22.5 L420.8 22.5 L421.6 26 L422.6 30 L424.5 33 L426.8 35.8 L428.4 39.5 L429.1 47 L428.9 60 L427.9 68.2 Z" fill="#000"/>
<path d="M413.93 36.16h0.64M413 52.04h0.64M417.5 41.61h0.64M407.25 39.01h0.64M414.99 50.56h0.64M414.45 51.03h0.64M412.9 40.46h0.64M415.36 52.7h0.64M415.73 58.71h0.64M410.29 33.65h0.64M408.66 64.94h0.64M411.26 52.79h0.64M413.95 55.09h0.64M423.62 46.39h0.64M413.49 45.82h0.64M414.74 53.64h0.64M411.09 59.21h0.64M417.44 53.11h0.64M413.67 48.34h0.64M409.07 54.59h0.64M411.08 46.49h0.64M416.99 43.56h0.64M412.43 56h0.64M419.57 45.17h0.64M417.31 45.42h0.64M415.16 53.39h0.64M410.59 57.18h0.64M419.4 50.36h0.64M414.81 41.8h0.64M419.36 50.44h0.64M410.17 55.35h0.64M409.62 45.2h0.64M407.61 59.63h0.64M420.63 45.56h0.64M412.04 45.96h0.64M412.3 53.88h0.64M418.38 42.95h0.64M415.32 37.38h0.64M418.57 49.38h0.64M411.9 60.72h0.64M413.68 59.59h0.64M417.22 61.6h0.64M411.6 50.4h0.64M415.1 48.64h0.64M418.57 45h0.64M417.01 59.54h0.64M408.14 43.21h0.64M411.29 46.18h0.64M415.17 48.78h0.64M414.24 46.78h0.64M413.75 53.39h0.64M416.24 44.53h0.64M413.66 44.67h0.64M413.46 39.95h0.64M416.86 54.7h0.64M413.63 45.21h0.64M412.63 45.34h0.64M409.37 61.43h0.64M423.87 41.39h0.64M410.5 54.05h0.64M415.82 38.99h0.64M408.24 53.8h0.64M408.03 59.96h0.64M412.51 50.6h0.64M413.99 46.08h0.64M413.57 47.9h0.64M417.73 49.36h0.64M413.9 46.29h0.64M412.1 44.84h0.64M414.03 62.86h0.64M417.35 51.66h0.64M419.01 57.1h0.64M414.62 48.85h0.64M410.71 51.74h0.64M413.05 38.9h0.64M410.15 63.55h0.64M414.64 53.49h0.64M414.6 46.75h0.64M415.38 57.58h0.64M413.07 53.59h0.64M417.08 46.62h0.64M414.51 44.82h0.64M415.81 47.42h0.64M417.44 44.65h0.64M419.07 47.83h0.64M411.48 43.67h0.64M415.99 44.01h0.64M419.41 58.98h0.64M415.55 40.04h0.64M413.93 44.92h0.64M408.57 52.98h0.64M420.6 46.25h0.64M416.43 58.99h0.64M411.12 47.62h0.64M414.81 53.3h0.64M410.56 51.52h0.64M413.68 56.66h0.64M409.21 46.05h0.64M412.49 47.78h0.64M416.17 45.6h0.64M422.21 45.05h0.64M416.52 57.14h0.64M416.89 48.57h0.64M411.51 48.21h0.64M416 50.85h0.64M415.75 54.02h0.64M411.35 43.45h0.64M418.32 46.6h0.64M409.25 63.02h0.64M411.5 43.46h0.64M416.9 42.08h0.64M411.39 57.34h0.64M411.54 67.56h0.64M414.39 50.39h0.64M412.08 48.44h0.64M412.5 49.84h0.64M416.32 41.1h0.64M411.25 35.35h0.64M418.51 49.48h0.64M413.96 49.59h0.64M417.01 52.25h0.64M416.55 48.83h0.64M413.64 49.61h0.64M408.41 57.63h0.64M409.27 43.04h0.64M416.01 50.39h0.64M416.44 61.94h0.64M419.59 59.68h0.64M413.32 64.34h0.64M411.36 49.4h0.64M416.99 48.51h0.64M413.64 47.53h0.64M418.09 32.73h0.64M417.82 57.42h0.64M413.78 53.93h0.64M411.09 57.76h0.64M423.18 43.56h0.64M418.19 49.61h0.64M412.99 46.59h0.64M413.43 41.24h0.64M409.93 61.64h0.64M413.95 53.87h0.64M414.93 53.34h0.64M409.42 43.36h0.64M415.9 56.99h0.64M410.57 45.95h0.64M410.79 54.57h0.64M415.03 50.23h0.64M412.05 52.4h0.64M414.1 44.8h0.64M415 45.35h0.64M416.86 54.38h0.64M411.94 54.11h0.64M414.2 45.06h0.64M411.26 38.36h0.64M410.61 52.43h0.64M417.62 45.6h0.64M414.48 52.41h0.64M416.34 53.1h0.64M417.68 55.36h0.64M411.71 52.78h0.64M406.97 48.74h0.64M414.06 54.06h0.64M413.09 55.83h0.64M417.96 44.12h0.64M412.37 51.82h0.64M415.47 51.01h0.64M416.49 41.72h0.64M416.33 58.17h0.64M417.33 52.99h0.64M413.29 52.8h0.64M413.78 38.89h0.64M412.18 49.72h0.64M412.45 43.47h0.64M413.3 47.4h0.64M414.21 49.66h0.64M414.52 56.95h0.64M414.41 52.84h0.64M412.8 54.74h0.64M412.98 45.64h0.64M410.28 56.24h0.64M412.42 51.72h0.64M417.39 53.75h0.64M420.73 49.07h0.64M416.87 54.86h0.64M412.03 50.33h0.64M412.31 42.83h0.64M414.9 44.58h0.64M419.04 44.81h0.64M412.37 50.64h0.64M412.44 50.37h0.64M412.18 40.05h0.64M406.76 40.97h0.64M418.56 53.11h0.64M414.46 46.75h0.64M413.56 52.09h0.64M409.83 44.41h0.64M411.33 58.81h0.64" stroke="#000" stroke-width="0.64" opacity="1.0"/>
<path d="M407.9 59.04h0.6M409.66 52.19h0.6M412.23 57.25h0.6M411.49 45.59h0.6M411.84 62.08h0.6M409.62 49.1h0.6M407.84 58.1h0.6M410.33 52.04h0.6M407.58 61.73h0.6M411.38 51.88h0.6M412.46 46.29h0.6M411.39 46.01h0.6M412.34 50.35h0.6M412 49.51h0.6M410.52 58.85h0.6M408.18 52.58h0.6M408.29 57.11h0.6M408.71 49.76h0.6M409.44 58.99h0.6M407.93 51.85h0.6M409.21 48.7h0.6M408.38 51.04h0.6M410.15 42.72h0.6M410.22 44.89h0.6M409.83 65.68h0.6M408.06 51.6h0.6M409.34 57.89h0.6M408.95 41.29h0.6M406.9 53.06h0.6M410.26 58.4h0.6M408.83 56h0.6M407.88 59.77h0.6M409.67 47.93h0.6M410.12 62.46h0.6M408.27 44.56h0.6M407.97 45.07h0.6M409.71 54.1h0.6M409.5 53.18h0.6M411.93 50.27h0.6M407.55 38.29h0.6M410.24 47.92h0.6M409.35 54.46h0.6M410.63 42.59h0.6M408.08 52.45h0.6M409.54 58.88h0.6M408.9 39.61h0.6M411.91 42.19h0.6M408.05 54.34h0.6M407.89 66.93h0.6M410.23 55.21h0.6M409.01 65.3h0.6M410.77 47.7h0.6M412.06 41.86h0.6M408.74 53.73h0.6M410.05 46.25h0.6M412.64 60.83h0.6M408.12 54.24h0.6M408.66 49.4h0.6M411.58 52.76h0.6M409.6 52.62h0.6M407.69 59.33h0.6M408.45 59.85h0.6M408.98 49.27h0.6M412.47 53.15h0.6M408.65 48.79h0.6M410.89 63.23h0.6M410.9 49.64h0.6M407.78 47.96h0.6M409.59 53.47h0.6M408.62 59.68h0.6M408.08 47.72h0.6M410.7 54.89h0.6M409.1 57.77h0.6M407.27 61.8h0.6M413.74 63.71h0.6M410.01 63.8h0.6M409.9 59.98h0.6M409.44 53.16h0.6M410.74 41.52h0.6M409.43 62.31h0.6M404.54 54.31h0.6M411.46 53.97h0.6M410.15 60.32h0.6M410.4 40.65h0.6M408.1 50.22h0.6M410.06 49.32h0.6M409.61 62.01h0.6M404.52 58.91h0.6M411.49 55.61h0.6M409.83 52.38h0.6M410.45 53.45h0.6M408.5 56.69h0.6M408.31 51.76h0.6M409.16 45.1h0.6M410.89 51.58h0.6M407.7 51.53h0.6M407.32 60.6h0.6M410.73 63.9h0.6M408.78 56.23h0.6M408.06 46.9h0.6M409.64 54.46h0.6M411.46 50.4h0.6M411.78 57.78h0.6M408.23 50.93h0.6M408.16 62.21h0.6M408.81 57.29h0.6M411.44 50.48h0.6M408.93 54.06h0.6M408.41 44.44h0.6" stroke="#222" stroke-width="0.6" opacity="1.0"/>
<path d="M418.86 27.18h0.64M420.59 32.15h0.64M417.57 27.75h0.64M418.58 30.03h0.64M421.34 26.44h0.64M422.5 24.7h0.64M419.51 22.34h0.64M419.32 26.4h0.64M421.3 30.46h0.64M419.9 23.46h0.64M419.8 24.51h0.64M419.6 24.6h0.64M419 25.82h0.64M419.54 25.41h0.64M418.23 26.51h0.64M421.15 28.25h0.64M419.48 22.04h0.64M418.36 21.92h0.64M419.34 24.92h0.64M417.66 28.33h0.64M418.01 23.62h0.64M419.23 28.88h0.64M423.04 24.77h0.64M419.89 24.64h0.64M420 25.41h0.64M423.97 22.22h0.64M420.14 23.26h0.64M420.83 24.2h0.64M421.16 22.25h0.64M423.44 26.73h0.64M417.67 28.43h0.64M419.6 22h0.64M420.96 24.21h0.64M421.4 24.11h0.64M421.64 26.52h0.64M420.83 26.55h0.64M419.76 24.75h0.64M420.97 28.46h0.64M419.69 33.74h0.64M422.81 22.04h0.64M421.91 25.76h0.64M420.65 23.27h0.64M422.75 23.15h0.64M420.18 23.5h0.64M423.17 30.33h0.64M418.34 24.45h0.64M420.84 24.51h0.64M419.78 22.29h0.64M420.67 22.24h0.64M421.53 34.27h0.64M419.82 31.67h0.64M420.85 23.7h0.64M419.79 22.69h0.64M420.47 28.42h0.64M421.68 25.05h0.64M418.53 25.74h0.64M422.78 26.97h0.64M420.21 18.85h0.64M419.66 27.88h0.64M418.9 30.65h0.64M419.46 23.01h0.64M419.44 25.69h0.64M421.78 24.06h0.64M417.66 25.74h0.64M421.07 31.31h0.64M418.64 31.1h0.64M421.3 27.57h0.64M419.17 22.98h0.64M418.89 29.22h0.64M420.62 29.68h0.64M422.99 26.07h0.64M420.23 32.59h0.64M418.37 24.47h0.64M419.75 24.71h0.64M420.51 23.13h0.64M422.01 21.33h0.64M419.1 20.21h0.64M418.23 28.03h0.64M421.23 25.34h0.64M421.55 28.13h0.64M419.45 25.88h0.64M420.84 32.91h0.64M419.65 27.29h0.64M421.11 30.19h0.64M420.93 29.69h0.64M418.73 25.12h0.64M417.44 25.84h0.64M423.74 26.85h0.64M420.43 26.93h0.64M420.51 21.48h0.64M419.28 25.42h0.64M420.55 23.06h0.64M420.14 23.51h0.64M418.35 23.76h0.64M419.11 28.89h0.64M422.28 28h0.64M419.99 24.12h0.64M417.98 24.22h0.64M422.61 29.97h0.64M420.63 25.18h0.64M420.31 27.47h0.64M420.29 27.49h0.64M419.16 26.18h0.64M419.78 29.7h0.64M418.47 30.46h0.64M420.17 24.3h0.64M420.33 26.44h0.64M419.96 27.47h0.64M419.45 20.24h0.64M421.33 25.94h0.64" stroke="#111" stroke-width="0.64" opacity="1.0"/>
<path d="M421.91 36.15h0.6M411.1 38.65h0.6M414.97 36.62h0.6M423.55 38.22h0.6M413.78 34.75h0.6M412.26 36.98h0.6M418.66 32.02h0.6M418.34 37.76h0.6M419.38 33.06h0.6M414.96 31.74h0.6M413.19 35.94h0.6M417.12 38.83h0.6M417.81 34.08h0.6M412.8 39.54h0.6M417.49 34.93h0.6M414.04 31.96h0.6M418.87 32.18h0.6M418.72 36.86h0.6M415.88 30.29h0.6M418.21 39.13h0.6M414.57 31.34h0.6M420.21 35.44h0.6M415.16 38.6h0.6M416.19 36.34h0.6M415.82 32.84h0.6M417.65 32.52h0.6M411.77 33.45h0.6M420.64 38.23h0.6M423.4 37.92h0.6M421.75 35.76h0.6M415.72 36.39h0.6M414.2 37.17h0.6M415.68 35.78h0.6M414.49 34.64h0.6M419.89 34.4h0.6M415.02 35.85h0.6M419.59 34.49h0.6M413.56 30.49h0.6M413.06 38.13h0.6M416.74 36.42h0.6M420.16 35.86h0.6M418.42 33.56h0.6M412.26 36.86h0.6M416.72 36.7h0.6M413.87 34.62h0.6M422.93 32.59h0.6M417.29 38.84h0.6M416.32 35.4h0.6M410.73 37.29h0.6M415.7 38.77h0.6M416.73 33.95h0.6M418.28 34.34h0.6M415.49 39.51h0.6M419.89 35.35h0.6M419.38 37.43h0.6M418.71 35.17h0.6M417.21 36.22h0.6M418.66 36.06h0.6M415.38 34.82h0.6M418.35 32.19h0.6M416.97 37.23h0.6M417.5 34.21h0.6M416.93 33.64h0.6M419.89 33.95h0.6M412.11 31.55h0.6M417.88 35.64h0.6M415.61 31.26h0.6M416.56 32.62h0.6M415.07 35.04h0.6M414.75 35.94h0.6M414.83 33.7h0.6M416.33 39.25h0.6M421.63 37.76h0.6M414.84 35.06h0.6M419.68 37.36h0.6M412.22 34.88h0.6M414.83 37.2h0.6M418.87 33.5h0.6M423.29 34.25h0.6M424.17 34.56h0.6" stroke="#111" stroke-width="0.6" opacity="1.0"/>
<path d="M423.79 40.5h0.6M422.71 33.69h0.6M427.61 34.93h0.6M425.17 31.43h0.6M428.38 37.87h0.6M424.87 37.07h0.6M422.78 33.69h0.6M420.16 36.11h0.6M427.03 37.5h0.6M426.25 37.08h0.6M421.75 31.31h0.6M425.57 35.52h0.6M426.41 34.26h0.6M421.84 36.32h0.6M422.64 30.35h0.6M422.51 32.54h0.6M421.27 33.47h0.6M426.32 41.78h0.6M428.23 33.86h0.6M426.8 34.84h0.6M424.99 33.11h0.6M423.82 30.25h0.6M428.38 32.86h0.6M425.43 33.37h0.6M424.66 31.69h0.6M423.08 37.66h0.6M425.45 29.5h0.6M426.08 31.3h0.6M424.7 36.53h0.6M422.43 34.14h0.6M423.4 36.19h0.6M426.24 38.94h0.6M424.8 40.74h0.6M421.68 40.13h0.6M423.36 37.24h0.6M423.69 35.29h0.6M421.75 36.16h0.6M428.96 35.47h0.6M423.95 35.06h0.6M425.74 34.47h0.6M423.99 35.67h0.6M427.19 37.76h0.6M421.42 33.25h0.6M424.05 37.47h0.6M426.37 34.46h0.6M429.21 34.59h0.6M427.44 39.11h0.6M427.9 35.62h0.6M425.41 30.69h0.6M419.65 33.31h0.6M425.76 38.08h0.6M423.75 38.01h0.6M425.42 39.39h0.6M420.11 32.69h0.6M421.66 32.07h0.6M428.03 32.41h0.6M421.97 33.91h0.6M426.16 33.73h0.6M425.8 36.62h0.6M422.43 28.32h0.6" stroke="#111" stroke-width="0.6" opacity="1.0"/>
<path d="M427.92 41.82h0.6M430.92 45.34h0.6M427.74 52.62h0.6M429.06 43.89h0.6M430.29 56.19h0.6M429.33 45.07h0.6M427.97 36.48h0.6M429.45 52.72h0.6M427.92 50.28h0.6M432.85 42.6h0.6M426.99 54.16h0.6M428.5 46.82h0.6M429.73 49.24h0.6M430.17 53.53h0.6M430.37 50.9h0.6M426.46 59.13h0.6M427 57.04h0.6M429.3 40.86h0.6M429.08 55.95h0.6M427.8 50.38h0.6M428.13 43.42h0.6M428.27 58.58h0.6M429.81 49.9h0.6M428.9 50.94h0.6M429.34 51.31h0.6M426.98 56.21h0.6M427.99 32.76h0.6M429.83 42.06h0.6M428.83 49.46h0.6M428.3 53.64h0.6M428.68 48.23h0.6M427.88 48.22h0.6M427.78 50.36h0.6M430.56 56.8h0.6M429.5 41.02h0.6M430.21 56.29h0.6M431.43 35.1h0.6M429.02 47.86h0.6M430.28 42.84h0.6M428.55 65.52h0.6M430.17 36.8h0.6M429.02 59.18h0.6M428.27 54.04h0.6M429.12 40.33h0.6M428.26 57.63h0.6M430.4 46.06h0.6M430.33 45.32h0.6M429.29 49.92h0.6M427.53 52.21h0.6M428.54 31.77h0.6M428.02 44.42h0.6M428.01 43.54h0.6M428.19 33.71h0.6M430.05 50.54h0.6M429.3 48.28h0.6M429.08 48.3h0.6M427.71 39.92h0.6M429.09 56.84h0.6M429.28 60.81h0.6M427.39 48.28h0.6M428.27 58.28h0.6M431 46.57h0.6M429.86 48.43h0.6M427.82 49.31h0.6M427.77 60.39h0.6M429.7 57.98h0.6M429.42 33.8h0.6M429.95 50.65h0.6M426.19 50.72h0.6M430.19 61.47h0.6M427.79 55.31h0.6M429.39 48.88h0.6M428.67 53.58h0.6M429.68 54.44h0.6M428.52 41.21h0.6M430.56 58.72h0.6M428.33 49.82h0.6M429.95 38.27h0.6M429.59 66.22h0.6M429.32 45.31h0.6M431.41 50.09h0.6M429.25 47.18h0.6M429.21 38.01h0.6M427.49 40.14h0.6M430.06 49.41h0.6M430.36 36.37h0.6M428.29 59.78h0.6M428.07 37.53h0.6M428.12 47.71h0.6M428.98 58.76h0.6" stroke="#111" stroke-width="0.6" opacity="1.0"/>
<ellipse cx="420.1" cy="25.1" rx="8.4" ry="10" fill="none" stroke="#222" stroke-width="0.8"/>
<line x1="428.5" y1="23.8" x2="440" y2="23.8" stroke="#000" stroke-width="0.9"/>
<path d="M439 20.5L444.8 23.8L439 27.1Z" fill="#000"/>
<line x1="379.9" y1="39.8" x2="379.9" y2="68" stroke="#666" stroke-width="1.2"/>
<text x="376.2" y="54.9" font-size="6.0" font-weight="normal" text-anchor="middle" fill="#000" transform="rotate(-90 376.2 54.9)" textLength="12" lengthAdjust="spacingAndGlyphs" stroke="#000" stroke-width="0.2">GFP</text>
<line x1="383.2" y1="70.8" x2="411.1" y2="70.8" stroke="#111" stroke-width="0.9"/>
<text x="390.2" y="78" font-size="6.2" font-weight="normal" text-anchor="start" fill="#000" textLength="9.8" lengthAdjust="spacingAndGlyphs" stroke="#000" stroke-width="0.2">SSC</text>
<rect x="460.8" y="9.6" width="56.6" height="59.9" fill="#f3f3f3" stroke="#777" stroke-width="0.7" />
<path d="M483.88 49.72h0.6M480.57 44.81h0.6M475.81 42.46h0.6M483.63 49.01h0.6M478.39 43.87h0.6M480.99 47.18h0.6M478.68 43.22h0.6M479.06 44.65h0.6M481.27 47.44h0.6M479.95 44.98h0.6M484.74 47.86h0.6M483.61 48.01h0.6M480.93 46.94h0.6M473.27 41.65h0.6M473.86 47.48h0.6M482.03 46.44h0.6M476.24 41.73h0.6M471.16 45.23h0.6M481.09 47.77h0.6M477.02 47.96h0.6M477.79 44.27h0.6M476.33 47.81h0.6M482.22 43.31h0.6M473.63 46.3h0.6M487.39 43.2h0.6M472.47 47.01h0.6M480.25 44.54h0.6M477.89 47.16h0.6M470.3 45.95h0.6M480.65 48.22h0.6M483.15 45.83h0.6M471.64 49.22h0.6M481.4 44.48h0.6M482.57 48.49h0.6M477.39 40.35h0.6M475.93 44.19h0.6M474.31 45.81h0.6M473.23 46.93h0.6M486.33 43.15h0.6M482.59 44.73h0.6M480.4 45.7h0.6M483.66 44.3h0.6M481.23 44.15h0.6M479.01 45.97h0.6M482.8 42.22h0.6M472.05 49.34h0.6M479.7 50.07h0.6M473.46 46.51h0.6M480.66 50.24h0.6M477.77 44.93h0.6M481.15 45.76h0.6M474.7 47.83h0.6M469.61 43.57h0.6M484 44.8h0.6M476.58 46.89h0.6M482.94 47.27h0.6M473.75 44.64h0.6M482.62 45.72h0.6M475.22 48.1h0.6M473.27 44.31h0.6M474.95 46.85h0.6M475.9 48.67h0.6M475.17 45.34h0.6M480.5 46.49h0.6M473.55 49.6h0.6M480.54 44.82h0.6M478.92 43.35h0.6M472.6 45.28h0.6M479.61 46.24h0.6M474.59 42.68h0.6M470.63 49.83h0.6M479.62 44.08h0.6M483.22 47.3h0.6M476.19 44.53h0.6M483 46.79h0.6M485.18 46.87h0.6M475.43 44.56h0.6M474.91 46.61h0.6M479.12 47.46h0.6M479.98 43.48h0.6M477.11 43.74h0.6M480.12 42.85h0.6M475.45 43.94h0.6M475.29 45.38h0.6M484.63 45.39h0.6M471.71 45.28h0.6M481.28 47.33h0.6" stroke="#333" stroke-width="0.6" opacity="1.0"/>
<path d="M472.78 50.91h0.7M473.8 49.09h0.7M473.92 47.72h0.7M472.3 48.17h0.7M472.71 50.55h0.7M471.92 50.53h0.7M471.31 50.37h0.7M470.52 48.19h0.7M473.67 48.91h0.7M472.67 48.99h0.7M472.71 48.83h0.7M471.36 48.72h0.7" stroke="#000" stroke-width="0.7" opacity="1.0"/>
<path d="M500.74 50.72h0.6M501.5 60.43h0.6M496.99 52.02h0.6M499.9 54.07h0.6M500.7 51.36h0.6M500.43 54.02h0.6M500.32 59.62h0.6M500.78 48.62h0.6M497.15 56.16h0.6M499.77 51.75h0.6M497.6 52.88h0.6M500.31 51.5h0.6M499.75 57.23h0.6M502.18 55.99h0.6M500.13 49.05h0.6M502.16 59.46h0.6M503.23 58.24h0.6M501.09 55.37h0.6M500.47 58.57h0.6M499.93 61.83h0.6M502.16 52.83h0.6M500.5 48.14h0.6M498.94 52.91h0.6M505.73 51.03h0.6M502.46 54.28h0.6M499.87 56.28h0.6M496.24 57.45h0.6M504.63 55.08h0.6M500.37 54.59h0.6M501.92 52.21h0.6M500.76 55.84h0.6M499.75 55.42h0.6M501.21 56.61h0.6M498.39 52.05h0.6M499.59 58.37h0.6M501.03 47.97h0.6M497.77 61.07h0.6M501.22 49.28h0.6M498.56 54.52h0.6M503.55 59.91h0.6M499.72 52.91h0.6M504.6 50.42h0.6M503.84 55.24h0.6M500.7 58.69h0.6M501.53 50.95h0.6M497.25 54.06h0.6M501.59 58.99h0.6M494.92 58.89h0.6M501.82 59.53h0.6M502.2 54.78h0.6M501.42 55.45h0.6M499.16 53.58h0.6M500.77 52.36h0.6M497.37 48.73h0.6M501.58 55.9h0.6M500.73 49.74h0.6M502.32 52.57h0.6M496.07 59.71h0.6M497.31 62.22h0.6M501.64 52.39h0.6M495.48 51.43h0.6M503.67 58.97h0.6M501.05 47.75h0.6M499.69 52.97h0.6M501.49 53.54h0.6M501.24 48.04h0.6M499.13 59.26h0.6M497.4 57.37h0.6M505.43 56.38h0.6M497.53 58.55h0.6M496.54 55.23h0.6M499.63 58.53h0.6M503.02 54.7h0.6M504.33 57.59h0.6M499.48 50.41h0.6M505.76 52.52h0.6M501.38 53.58h0.6M499.49 48.13h0.6M500.19 53.58h0.6M502.6 52.12h0.6M497.16 50.08h0.6M500.42 54.91h0.6M502.05 52.6h0.6M501.65 54.53h0.6M504.11 53.8h0.6M500.81 56.07h0.6M503.1 50.63h0.6M499.49 53h0.6M495.95 58.76h0.6M502.79 54.08h0.6M507.69 58.65h0.6M504.82 59.74h0.6M502.44 48.82h0.6M503.77 55.54h0.6M497.94 54.19h0.6M502.11 57.6h0.6M500.88 52.09h0.6M502.13 51.22h0.6M500.34 56.8h0.6M497.42 55.37h0.6M496.32 50.61h0.6M497.87 53.67h0.6M502.03 53.82h0.6M502.45 54.35h0.6M500.06 55.8h0.6M499.99 54.5h0.6M502.73 51.91h0.6M502.96 49.95h0.6M500.03 47.64h0.6M499.37 59.82h0.6M501.26 58.65h0.6M497.36 50.3h0.6M501.5 57.03h0.6M502.29 47.87h0.6M501.59 53.74h0.6M500.76 55.75h0.6M499.9 47.8h0.6M498.21 48.7h0.6M497.69 53.51h0.6M503.3 51.38h0.6M498.87 49.79h0.6M496.8 54.24h0.6M499.46 53.12h0.6M498.44 55.79h0.6M497.93 56.01h0.6M499.08 56.89h0.6M498.6 55.62h0.6M501.44 53.71h0.6M504 54.65h0.6M498.6 56.54h0.6" stroke="#222" stroke-width="0.6" opacity="1.0"/>
<ellipse cx="500.5" cy="53.5" rx="1.8" ry="3" fill="#000" opacity="0.6" filter="url(#b0_8)" transform="rotate(0 500.5 53.5)"/>
<path d="M476.99 56.65h0.6M481.06 59.79h0.6M489.3 51.42h0.6M479.75 63.91h0.6M480.22 60.4h0.6M488.43 53.65h0.6M481.22 62.45h0.6M478.15 51.39h0.6M476.14 59.84h0.6M481.92 67.01h0.6M487.46 52.28h0.6M486.05 62.98h0.6M488.89 58.34h0.6M478.29 59.64h0.6M488.53 61.71h0.6M489.27 62.42h0.6M478.14 54.6h0.6M490.02 52.42h0.6M479.3 57.62h0.6M476.56 56.52h0.6M480.68 56.72h0.6M481.6 63.09h0.6M477.03 57.24h0.6M472.49 62.05h0.6M484.32 65.53h0.6M485.25 57.8h0.6M479.1 57.65h0.6M475.09 62.36h0.6M478.04 55.85h0.6M483.52 59.49h0.6M478.16 57.98h0.6M478.6 64.86h0.6M485.88 55.84h0.6M480.81 64.97h0.6M479.6 66.76h0.6M483.17 61.91h0.6M470.88 62.7h0.6M482.66 61.54h0.6" stroke="#666" stroke-width="0.6" opacity="1.0"/>
<path d="M462.38 63.04h0.6M461.6 64.49h0.6M462.05 56.94h0.6M461.21 61.63h0.6M462.26 52.46h0.6M460.39 65.07h0.6M461.99 72.04h0.6M460.8 60.04h0.6M461.53 63.16h0.6M463.1 67.25h0.6M461.21 65.78h0.6M461.05 62.19h0.6" stroke="#666" stroke-width="0.6" opacity="1.0"/>
<rect x="467.2" y="34" width="22.1" height="16.9" fill="none" stroke="#222" stroke-width="0.8" />
<rect x="491.1" y="45.9" width="18.1" height="19.6" fill="none" stroke="#222" stroke-width="0.8" />
<line x1="456.8" y1="34" x2="456.8" y2="67.2" stroke="#777" stroke-width="0.9"/>
<text x="454.6" y="41.1" font-size="6.0" text-anchor="middle" stroke="#000" stroke-width="0.1" transform="rotate(-90 454.6 41.1)">CX3CR1<tspan font-size="4" dy="-2">-/-</tspan><tspan dy="2">CMTMR</tspan><tspan font-size="4" dy="-2">+</tspan></text>
<line x1="460.2" y1="71.2" x2="489.2" y2="71.2" stroke="#888" stroke-width="1.0"/>
<text x="460.2" y="79.4" font-size="6.5" font-weight="normal" text-anchor="start" fill="#000" textLength="44.6" lengthAdjust="spacingAndGlyphs" stroke="#000" stroke-width="0.1">C57Bl6-Hoescht</text>
<text x="505" y="77.2" font-size="4.6" font-weight="normal" text-anchor="start" fill="#000" stroke="#000" stroke-width="0.05">+</text>
<line x1="416.65" y1="160.08" x2="416.65" y2="158.35" stroke="#000" stroke-width="0.7"/>
<line x1="414.05" y1="158.35" x2="419.25" y2="158.35" stroke="#000" stroke-width="0.7"/>
<rect x="412.3" y="160.08" width="8.7" height="6.92" fill="#fff" stroke="#000" stroke-width="0.75" />
<line x1="429.7" y1="154.89" x2="429.7" y2="152.01" stroke="#000" stroke-width="0.7"/>
<line x1="427.1" y1="152.01" x2="432.3" y2="152.01" stroke="#000" stroke-width="0.7"/>
<rect x="425.4" y="154.89" width="8.6" height="12.11" fill="#000" stroke="#000" stroke-width="0.75" />
<line x1="452.35" y1="149.12" x2="452.35" y2="146.24" stroke="#000" stroke-width="0.7"/>
<line x1="449.75" y1="146.24" x2="454.95" y2="146.24" stroke="#000" stroke-width="0.7"/>
<rect x="447.6" y="149.12" width="9.5" height="17.88" fill="#fff" stroke="#000" stroke-width="0.75" />
<line x1="465.85" y1="140.47" x2="465.85" y2="134.71" stroke="#000" stroke-width="0.7"/>
<line x1="463.25" y1="134.71" x2="468.45" y2="134.71" stroke="#000" stroke-width="0.7"/>
<rect x="461.1" y="140.47" width="9.5" height="26.53" fill="#000" stroke="#000" stroke-width="0.75" />
<line x1="487.95" y1="115.32" x2="487.95" y2="108.95" stroke="#000" stroke-width="0.7"/>
<line x1="485.35" y1="108.95" x2="490.55" y2="108.95" stroke="#000" stroke-width="0.7"/>
<rect x="483.4" y="115.32" width="9.1" height="11.98" fill="#fff" stroke="#000" stroke-width="0.75" />
<rect x="483.4" y="132.1" width="9.1" height="34.9" fill="#fff" stroke="#000" stroke-width="0.75" />
<line x1="500.9" y1="106.5" x2="500.9" y2="98.17" stroke="#000" stroke-width="0.7"/>
<line x1="498.3" y1="98.17" x2="503.5" y2="98.17" stroke="#000" stroke-width="0.7"/>
<rect x="496.3" y="106.5" width="9.2" height="20.8" fill="#000" stroke="#000" stroke-width="0.75" />
<rect x="496.3" y="132.1" width="9.2" height="34.9" fill="#000" stroke="#000" stroke-width="0.75" />
<line x1="405.8" y1="96.4" x2="405.8" y2="127.6" stroke="#000" stroke-width="0.8"/>
<line x1="405.8" y1="130.6" x2="405.8" y2="167" stroke="#000" stroke-width="0.8"/>
<polyline points="404.5,128.4 405.8,127.4 407.1,128.4" fill="none" stroke="#000" stroke-width="0.5"/>
<polyline points="404.5,130.6 405.8,129.6 407.1,130.6" fill="none" stroke="#000" stroke-width="0.5"/>
<line x1="405.8" y1="167" x2="509.5" y2="167" stroke="#000" stroke-width="0.8"/>
<line x1="404.2" y1="96.7" x2="405.8" y2="96.7" stroke="#000" stroke-width="0.6"/>
<text x="403.6" y="98.7" font-size="5.6" font-weight="normal" text-anchor="end" fill="#000" stroke="#000" stroke-width="0.1">6</text>
<line x1="404.2" y1="106.5" x2="405.8" y2="106.5" stroke="#000" stroke-width="0.6"/>
<text x="403.6" y="108.5" font-size="5.6" font-weight="normal" text-anchor="end" fill="#000" stroke="#000" stroke-width="0.1">5</text>
<line x1="404.2" y1="116.3" x2="405.8" y2="116.3" stroke="#000" stroke-width="0.6"/>
<text x="403.6" y="118.3" font-size="5.6" font-weight="normal" text-anchor="end" fill="#000" stroke="#000" stroke-width="0.1">4</text>
<line x1="404.2" y1="126.1" x2="405.8" y2="126.1" stroke="#000" stroke-width="0.6"/>
<text x="403.6" y="128.1" font-size="5.6" font-weight="normal" text-anchor="end" fill="#000" stroke="#000" stroke-width="0.1">3</text>
<line x1="404.2" y1="132.4" x2="405.8" y2="132.4" stroke="#000" stroke-width="0.6"/>
<text x="403.6" y="134.4" font-size="5.6" font-weight="normal" text-anchor="end" fill="#000" textLength="8.6" lengthAdjust="spacingAndGlyphs" stroke="#000" stroke-width="0.1">0.6</text>
<line x1="404.2" y1="143.93" x2="405.8" y2="143.93" stroke="#000" stroke-width="0.6"/>
<text x="403.6" y="145.93" font-size="5.6" font-weight="normal" text-anchor="end" fill="#000" textLength="8.6" lengthAdjust="spacingAndGlyphs" stroke="#000" stroke-width="0.1">0.4</text>
<line x1="404.2" y1="155.47" x2="405.8" y2="155.47" stroke="#000" stroke-width="0.6"/>
<text x="403.6" y="157.47" font-size="5.6" font-weight="normal" text-anchor="end" fill="#000" textLength="8.6" lengthAdjust="spacingAndGlyphs" stroke="#000" stroke-width="0.1">0.2</text>
<line x1="404.2" y1="167" x2="405.8" y2="167" stroke="#000" stroke-width="0.6"/>
<text x="403.6" y="169" font-size="5.6" font-weight="normal" text-anchor="end" fill="#000" textLength="8.6" lengthAdjust="spacingAndGlyphs" stroke="#000" stroke-width="0.1">0.0</text>
<text x="389.6" y="131.4" font-size="5.85" text-anchor="middle" stroke="#000" stroke-width="0.1" transform="rotate(-90 389.6 131.4)">Percent of Grafted GFP<tspan font-size="3.8" dy="-2">+</tspan><tspan dy="2"> cells</tspan></text>
<polyline points="417,148.5 417,147.5 428.8,147.5 428.8,148.5" fill="none" stroke="#000" stroke-width="0.5"/>
<text x="423.1" y="146" font-size="5.8" font-weight="normal" text-anchor="middle" fill="#000" stroke="#000" stroke-width="0.08">ns</text>
<polyline points="453,133.4 453,132.4 465.5,132.4 465.5,133.4" fill="none" stroke="#000" stroke-width="0.5"/>
<text x="459.2" y="130.9" font-size="5.8" font-weight="normal" text-anchor="middle" fill="#000" stroke="#000" stroke-width="0.08">ns</text>
<polyline points="488.6,97.5 488.6,96.5 501.4,96.5 501.4,97.5" fill="none" stroke="#000" stroke-width="0.5"/>
<text x="493.8" y="95" font-size="5.8" font-weight="normal" text-anchor="middle" fill="#000" stroke="#000" stroke-width="0.08">ns</text>
<text x="423" y="176.3" font-size="5.8" font-weight="normal" text-anchor="middle" fill="#000" textLength="13.8" lengthAdjust="spacingAndGlyphs" stroke="#000" stroke-width="0.08">Blood</text>
<text x="459.6" y="176.5" font-size="5.8" font-weight="normal" text-anchor="middle" fill="#000" textLength="35.6" lengthAdjust="spacingAndGlyphs" stroke="#000" stroke-width="0.08">Bone Marrow</text>
<text x="493.4" y="176.5" font-size="5.8" font-weight="normal" text-anchor="middle" fill="#000" textLength="15.2" lengthAdjust="spacingAndGlyphs" stroke="#000" stroke-width="0.08">Spleen</text>
<rect x="412.5" y="100.9" width="8" height="4.2" fill="#fff" stroke="#000" stroke-width="0.7" />
<rect x="412.5" y="108.6" width="8" height="3.9" fill="#000" stroke="#000" stroke-width="0.5" />
<text x="424.8" y="107.5" font-size="5.8" stroke="#000" stroke-width="0.08">CX3CR1<tspan font-size="3.8" dy="-2.5">gfp/+</tspan></text>
<text x="424.8" y="114.7" font-size="5.8" stroke="#000" stroke-width="0.08">CX3CR1<tspan font-size="3.8" dy="-2.5">gfp/gfp</tspan></text>
</svg></body></html>
